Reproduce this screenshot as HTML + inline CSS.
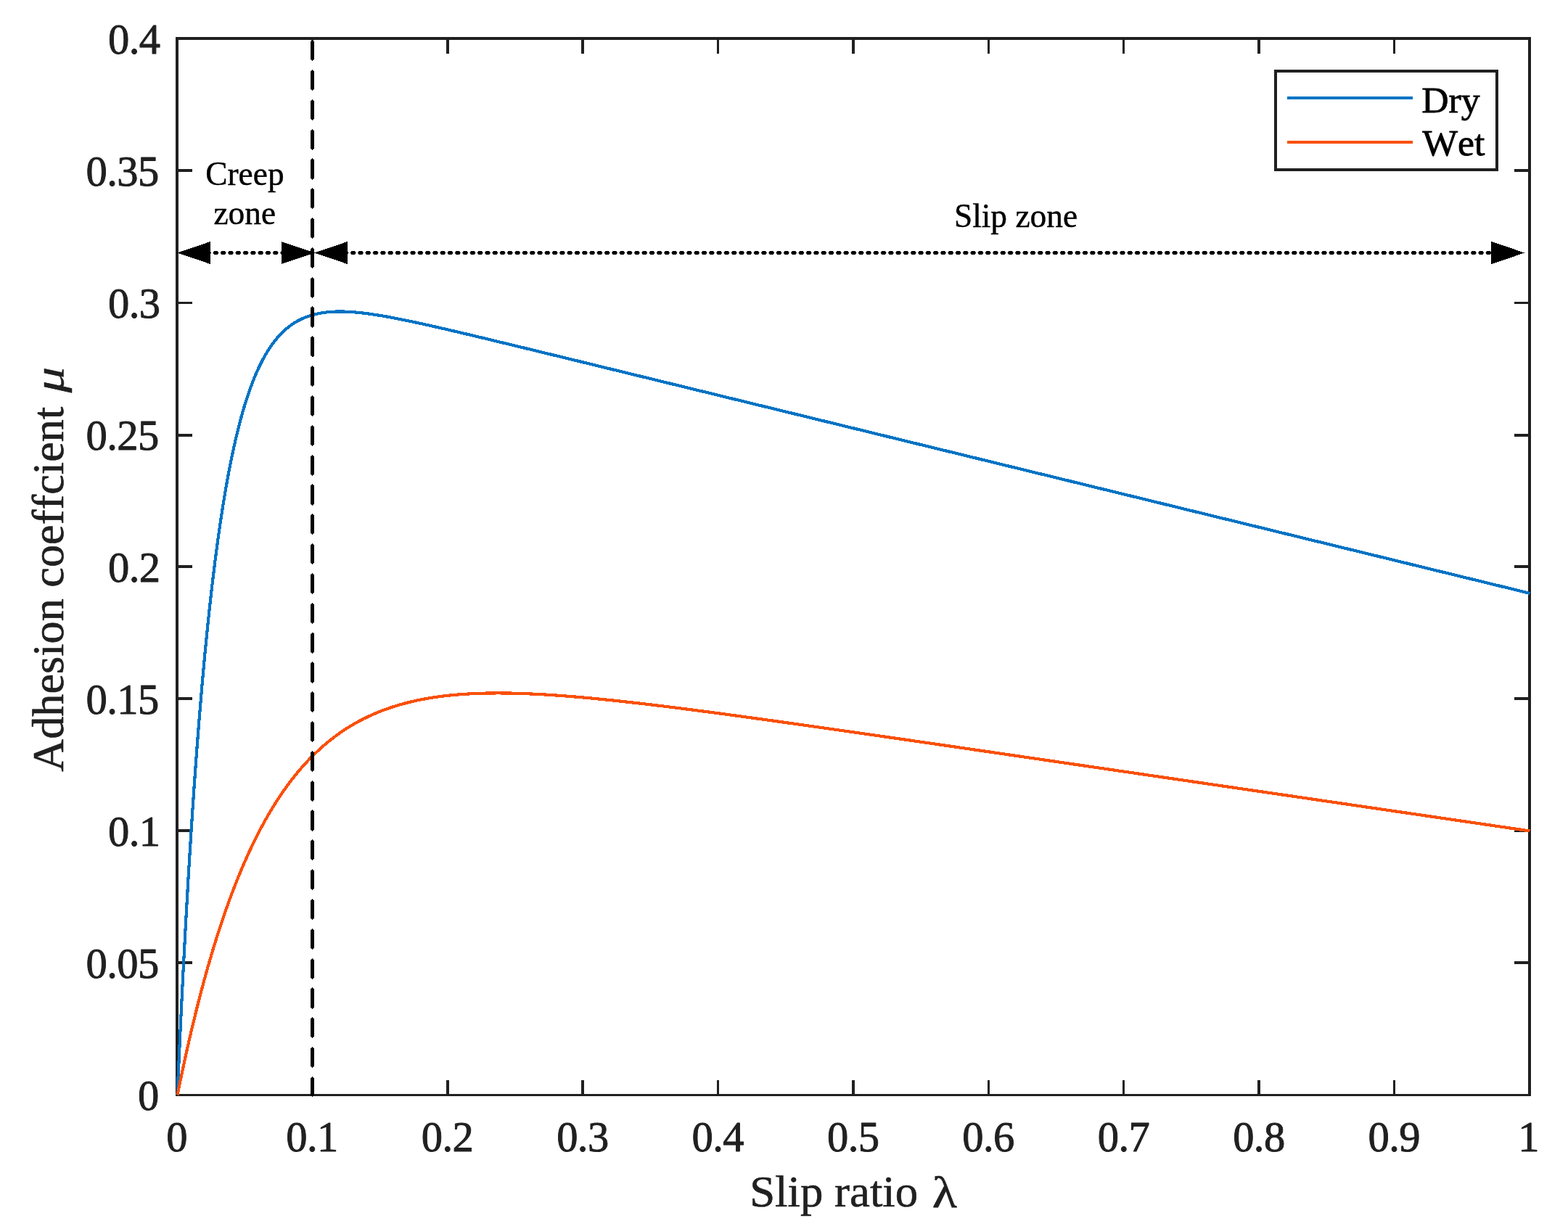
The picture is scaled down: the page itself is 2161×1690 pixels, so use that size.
<!DOCTYPE html>
<html lang="en"><head><meta charset="utf-8"><title>Adhesion coefficient vs slip ratio</title>
<style>
html,body{margin:0;padding:0;background:#fff;}
body{width:2161px;height:1690px;}
svg{display:block;}
text{font-family:"Liberation Serif","DejaVu Serif",serif;font-kerning:none;stroke-linejoin:round;paint-order:stroke fill;}
.tk{font-size:58.59px;letter-spacing:-0.574px;fill:#202020;stroke:#202020;stroke-width:0.9px;}
.lb{font-size:63.18px;fill:#202020;stroke:#202020;stroke-width:0.6px;}
.lg{font-size:51.70px;fill:#000;stroke:#000;stroke-width:0.8px;}
.an{font-size:45.40px;fill:#000;stroke:#000;stroke-width:0.45px;}
</style></head><body>
<svg xmlns="http://www.w3.org/2000/svg" width="2161" height="1690" viewBox="0 0 2161 1690">
<rect x="0" y="0" width="2161" height="1690" fill="#fff"/>
<g id="axes" fill="#202020" shape-rendering="crispEdges">
<rect x="242" y="51" width="1868" height="4"/>
<rect x="242" y="1508" width="1868" height="3"/>
<rect x="242" y="51" width="4" height="1460"/>
<rect x="2106" y="51" width="4" height="1460"/>
<rect x="429" y="1489" width="3" height="19"/>
<rect x="429" y="55" width="3" height="19"/>
<rect x="615" y="1489" width="4" height="19"/>
<rect x="615" y="55" width="4" height="19"/>
<rect x="801" y="1489" width="4" height="19"/>
<rect x="801" y="55" width="4" height="19"/>
<rect x="988" y="1489" width="3" height="19"/>
<rect x="988" y="55" width="3" height="19"/>
<rect x="1174" y="1489" width="4" height="19"/>
<rect x="1174" y="55" width="4" height="19"/>
<rect x="1361" y="1489" width="3" height="19"/>
<rect x="1361" y="55" width="3" height="19"/>
<rect x="1547" y="1489" width="3" height="19"/>
<rect x="1547" y="55" width="3" height="19"/>
<rect x="1733" y="1489" width="4" height="19"/>
<rect x="1733" y="55" width="4" height="19"/>
<rect x="1920" y="1489" width="3" height="19"/>
<rect x="1920" y="55" width="3" height="19"/>
<rect x="246" y="1325" width="19" height="4"/>
<rect x="2087" y="1325" width="19" height="4"/>
<rect x="246" y="1143" width="19" height="4"/>
<rect x="2087" y="1143" width="19" height="4"/>
<rect x="246" y="961" width="19" height="4"/>
<rect x="2087" y="961" width="19" height="4"/>
<rect x="246" y="779" width="19" height="4"/>
<rect x="2087" y="779" width="19" height="4"/>
<rect x="246" y="598" width="19" height="4"/>
<rect x="2087" y="598" width="19" height="4"/>
<rect x="246" y="416" width="19" height="3"/>
<rect x="2087" y="416" width="19" height="3"/>
<rect x="246" y="233" width="19" height="4"/>
<rect x="2087" y="233" width="19" height="4"/>
</g>
<g id="xticklabels" text-anchor="middle">
<text class="tk" x="243.70" y="1586.8">0</text>
<text class="tk" x="430.10" y="1586.8">0.1</text>
<text class="tk" x="616.50" y="1586.8">0.2</text>
<text class="tk" x="802.90" y="1586.8">0.3</text>
<text class="tk" x="989.30" y="1586.8">0.4</text>
<text class="tk" x="1175.70" y="1586.8">0.5</text>
<text class="tk" x="1362.10" y="1586.8">0.6</text>
<text class="tk" x="1548.50" y="1586.8">0.7</text>
<text class="tk" x="1734.90" y="1586.8">0.8</text>
<text class="tk" x="1921.30" y="1586.8">0.9</text>
<text class="tk" x="2106.70" y="1586.8">1</text>
</g>
<g id="yticklabels" text-anchor="end">
<text class="tk" x="218.65" y="1530.15">0</text>
<text class="tk" x="218.65" y="1348.15">0.05</text>
<text class="tk" x="220.55" y="1166.15">0.1</text>
<text class="tk" x="218.65" y="984.15">0.15</text>
<text class="tk" x="220.55" y="802.15">0.2</text>
<text class="tk" x="218.65" y="620.15">0.25</text>
<text class="tk" x="220.55" y="438.15">0.3</text>
<text class="tk" x="218.65" y="256.15">0.35</text>
<text class="tk" x="220.55" y="74.15">0.4</text>
</g>
<text class="lb" style="font-size:62.8px" transform="translate(1033.2 1663.0) scale(1 0.96)" x="0" y="0">Slip ratio</text>
<text class="lb" transform="translate(1284.7 1663.8) scale(1.12 0.97)" x="0" y="0">λ</text>
<text class="lb" style="font-size:62.25px" transform="translate(87.0 1063.8) rotate(-90)" x="0" y="0">Adhesion coeffcient</text>
<text class="lb" style="font-size:62.4px;font-style:italic" transform="translate(87.0 541.2) rotate(-90) scale(1.13 0.92)" x="0" y="0">μ</text>
<g id="curves" transform="translate(0.5 0.5)" fill="none" stroke-width="4.17" stroke-linejoin="round" stroke-linecap="butt" shape-rendering="crispEdges">
<polyline stroke="#0073C4" points="244.00,1509.00 244.93,1487.65 245.86,1466.70 246.80,1446.15 247.73,1426.00 248.66,1406.22 249.59,1386.83 250.52,1367.80 251.46,1349.14 252.39,1330.83 253.32,1312.87 254.25,1295.25 255.18,1277.97 256.12,1261.01 257.05,1244.38 257.98,1228.07 258.91,1212.07 259.84,1196.38 260.78,1180.98 261.71,1165.88 262.64,1151.07 263.57,1136.54 264.50,1122.28 265.44,1108.30 266.37,1094.59 267.30,1081.14 268.23,1067.95 269.16,1055.01 270.10,1042.32 271.03,1029.87 271.96,1017.66 272.89,1005.68 273.82,993.93 274.76,982.41 275.69,971.11 276.62,960.03 277.55,949.16 278.48,938.50 279.42,928.04 280.35,917.78 281.28,907.73 282.21,897.86 283.14,888.19 284.08,878.70 285.01,869.39 285.94,860.27 286.87,851.32 287.80,842.54 288.74,833.93 289.67,825.49 290.60,817.21 291.53,809.09 292.46,801.13 293.40,793.33 294.33,785.67 295.26,778.16 296.19,770.80 297.12,763.58 298.06,756.50 298.99,749.56 299.92,742.75 300.85,736.08 301.78,729.54 302.72,723.12 303.65,716.83 304.58,710.66 305.51,704.61 306.44,698.68 307.38,692.86 308.31,687.16 309.24,681.57 310.17,676.09 311.10,670.72 312.04,665.46 312.97,660.29 313.90,655.23 314.83,650.27 315.76,645.40 316.70,640.63 317.63,635.96 318.56,631.38 319.49,626.88 320.42,622.48 321.36,618.16 322.29,613.93 323.22,609.79 324.15,605.72 325.08,601.74 326.02,597.83 326.95,594.01 327.88,590.26 328.81,586.58 329.74,582.98 330.68,579.45 331.61,575.99 332.54,572.60 333.47,569.28 334.40,566.02 335.34,562.83 336.27,559.71 337.20,556.65 338.13,553.65 339.06,550.71 340.00,547.83 340.93,545.00 341.86,542.24 342.79,539.53 343.72,536.88 344.66,534.28 345.59,531.74 346.52,529.24 347.45,526.80 348.38,524.41 349.32,522.07 350.25,519.78 351.18,517.53 352.11,515.33 353.04,513.18 353.98,511.07 354.91,509.00 355.84,506.98 356.77,505.00 357.70,503.06 358.64,501.16 359.57,499.31 360.50,497.49 361.43,495.71 362.36,493.97 363.30,492.26 364.23,490.59 365.16,488.96 366.09,487.36 367.02,485.80 367.96,484.27 368.89,482.77 369.82,481.31 370.75,479.88 371.68,478.47 372.62,477.10 373.55,475.76 374.48,474.45 375.41,473.17 376.34,471.92 377.28,470.69 378.21,469.49 379.14,468.32 380.07,467.18 381.00,466.06 381.94,464.96 382.87,463.89 383.80,462.85 384.73,461.83 385.66,460.83 386.60,459.86 387.53,458.91 388.46,457.98 389.39,457.07 390.32,456.18 391.26,455.32 392.19,454.47 393.12,453.65 394.05,452.84 394.98,452.06 395.92,451.29 396.85,450.54 397.78,449.81 398.71,449.10 399.64,448.41 400.58,447.73 401.51,447.07 402.44,446.43 403.37,445.81 404.30,445.20 405.24,444.60 406.17,444.02 407.10,443.46 408.03,442.91 408.96,442.38 409.90,441.86 410.83,441.35 411.76,440.86 412.69,440.38 413.62,439.91 414.56,439.46 415.49,439.02 416.42,438.60 417.35,438.18 418.28,437.78 419.22,437.39 420.15,437.01 421.08,436.64 422.01,436.29 422.94,435.94 423.88,435.61 424.81,435.28 425.74,434.97 426.67,434.67 427.60,434.37 428.54,434.09 429.47,433.81 430.40,433.55 431.33,433.30 432.26,433.05 433.20,432.81 434.13,432.58 435.06,432.36 435.99,432.15 436.92,431.95 437.86,431.75 438.79,431.57 439.72,431.39 440.65,431.22 441.58,431.05 442.52,430.89 443.45,430.74 444.38,430.60 445.31,430.47 446.24,430.34 447.18,430.22 448.11,430.10 449.04,429.99 449.97,429.89 450.90,429.79 451.84,429.70 452.77,429.62 453.70,429.54 454.63,429.47 455.56,429.40 456.50,429.34 457.43,429.28 458.36,429.23 459.29,429.19 460.22,429.15 461.16,429.11 462.09,429.08 463.02,429.05 463.95,429.03 464.88,429.02 465.82,429.01 466.75,429.00 467.68,429.00 468.61,429.00 469.54,429.00 470.48,429.01 471.41,429.03 472.34,429.05 473.27,429.07 474.20,429.09 475.14,429.12 476.07,429.16 477.00,429.20 477.93,429.24 478.86,429.28 479.80,429.33 480.73,429.38 481.66,429.43 482.59,429.49 483.52,429.55 484.46,429.62 485.39,429.68 486.32,429.75 487.25,429.83 488.18,429.90 489.12,429.98 490.05,430.06 490.98,430.15 491.91,430.23 492.84,430.32 493.78,430.42 494.71,430.51 495.64,430.61 496.57,430.71 497.50,430.81 498.44,430.92 499.37,431.02 500.30,431.13 501.23,431.24 502.16,431.36 503.10,431.47 504.03,431.59 504.96,431.71 505.89,431.83 506.82,431.96 507.76,432.08 508.69,432.21 509.62,432.34 510.55,432.47 511.48,432.60 512.42,432.74 513.35,432.88 514.28,433.01 515.21,433.15 516.14,433.30 517.08,433.44 518.01,433.58 518.94,433.73 519.87,433.88 520.80,434.03 521.74,434.18 522.67,434.33 523.60,434.49 524.53,434.64 525.46,434.80 526.40,434.96 527.33,435.12 528.26,435.28 529.19,435.44 530.12,435.60 531.06,435.77 531.99,435.93 532.92,436.10 533.85,436.27 534.78,436.43 535.72,436.60 536.65,436.78 537.58,436.95 538.51,437.12 539.44,437.30 540.38,437.47 541.31,437.65 542.24,437.82 543.17,438.00 544.10,438.18 545.04,438.36 545.97,438.54 546.90,438.72 547.83,438.91 548.76,439.09 549.70,439.27 550.63,439.46 551.56,439.64 552.49,439.83 553.42,440.02 554.36,440.21 555.29,440.40 556.22,440.59 557.15,440.78 558.08,440.97 559.02,441.16 559.95,441.35 560.88,441.54 561.81,441.74 562.74,441.93 563.68,442.13 564.61,442.32 565.54,442.52 566.47,442.72 567.40,442.91 568.34,443.11 569.27,443.31 570.20,443.51 571.13,443.71 572.06,443.91 573.00,444.11 573.93,444.31 574.86,444.51 575.79,444.71 576.72,444.92 577.66,445.12 578.59,445.32 579.52,445.53 580.45,445.73 581.38,445.94 582.32,446.14 583.25,446.35 584.18,446.55 585.11,446.76 586.04,446.97 586.98,447.17 587.91,447.38 588.84,447.59 589.77,447.80 590.70,448.01 591.64,448.22 592.57,448.43 593.50,448.64 594.43,448.85 595.36,449.06 596.30,449.27 597.23,449.48 598.16,449.69 599.09,449.90 600.02,450.11 600.96,450.33 601.89,450.54 602.82,450.75 603.75,450.96 604.68,451.18 605.62,451.39 606.55,451.60 607.48,451.82 608.41,452.03 609.34,452.25 610.28,452.46 611.21,452.68 612.14,452.89 613.07,453.11 614.00,453.32 614.94,453.54 615.87,453.76 616.80,453.97 617.73,454.19 618.66,454.41 619.60,454.62 620.53,454.84 621.46,455.06 622.39,455.28 623.32,455.49 624.26,455.71 625.19,455.93 626.12,456.15 627.05,456.37 627.98,456.59 628.92,456.81 629.85,457.02 630.78,457.24 631.71,457.46 632.64,457.68 633.58,457.90 634.51,458.12 635.44,458.34 636.37,458.56 637.30,458.78 638.24,459.00 639.17,459.22 640.10,459.44 641.03,459.67 641.96,459.89 642.90,460.11 643.83,460.33 644.76,460.55 645.69,460.77 646.62,460.99 647.56,461.21 648.49,461.44 649.42,461.66 650.35,461.88 651.28,462.10 652.22,462.32 653.15,462.55 654.08,462.77 655.01,462.99 655.94,463.21 656.88,463.44 657.81,463.66 658.74,463.88 659.67,464.10 660.60,464.33 661.54,464.55 662.47,464.77 663.40,465.00 664.33,465.22 665.26,465.44 666.20,465.67 667.13,465.89 668.06,466.11 668.99,466.34 669.92,466.56 670.86,466.79 671.79,467.01 672.72,467.23 673.65,467.46 674.58,467.68 675.52,467.91 676.45,468.13 677.38,468.35 678.31,468.58 679.24,468.80 680.18,469.03 681.11,469.25 682.04,469.48 682.97,469.70 683.90,469.93 684.84,470.15 685.77,470.38 686.70,470.60 687.63,470.83 688.56,471.05 689.50,471.28 690.43,471.50 691.36,471.73 692.29,471.95 693.22,472.18 694.16,472.40 695.09,472.63 696.02,472.85 696.95,473.08 697.88,473.30 698.82,473.53 699.75,473.75 700.68,473.98 701.61,474.20 702.54,474.43 703.48,474.66 704.41,474.88 705.34,475.11 706.27,475.33 707.20,475.56 708.14,475.78 709.07,476.01 710.00,476.24 710.93,476.46 711.86,476.69 712.80,476.91 713.73,477.14 714.66,477.37 715.59,477.59 716.52,477.82 717.46,478.04 718.39,478.27 719.32,478.50 720.25,478.72 721.18,478.95 722.12,479.17 723.05,479.40 723.98,479.63 724.91,479.85 725.84,480.08 726.78,480.31 727.71,480.53 728.64,480.76 729.57,480.99 730.50,481.21 731.44,481.44 732.37,481.66 733.30,481.89 734.23,482.12 735.16,482.34 736.10,482.57 737.03,482.80 737.96,483.02 738.89,483.25 739.82,483.48 740.76,483.70 741.69,483.93 742.62,484.16 743.55,484.38 744.48,484.61 745.42,484.84 746.35,485.06 747.28,485.29 748.21,485.52 749.14,485.74 750.08,485.97 751.01,486.20 751.94,486.42 752.87,486.65 753.80,486.88 754.74,487.10 755.67,487.33 756.60,487.56 757.53,487.79 758.46,488.01 759.40,488.24 760.33,488.47 761.26,488.69 762.19,488.92 763.12,489.15 764.06,489.37 764.99,489.60 765.92,489.83 766.85,490.05 767.78,490.28 768.72,490.51 769.65,490.74 770.58,490.96 771.51,491.19 772.44,491.42 773.38,491.64 774.31,491.87 775.24,492.10 776.17,492.32 777.10,492.55 778.04,492.78 778.97,493.01 779.90,493.23 780.83,493.46 781.76,493.69 782.70,493.91 783.63,494.14 784.56,494.37 785.49,494.60 786.42,494.82 787.36,495.05 788.29,495.28 789.22,495.50 790.15,495.73 791.08,495.96 792.02,496.19 792.95,496.41 793.88,496.64 794.81,496.87 795.74,497.09 796.68,497.32 797.61,497.55 798.54,497.78 799.47,498.00 800.40,498.23 801.34,498.46 802.27,498.69 803.20,498.91 804.13,499.14 805.06,499.37 806.00,499.59 806.93,499.82 807.86,500.05 808.79,500.28 809.72,500.50 810.66,500.73 811.59,500.96 812.52,501.19 813.45,501.41 814.38,501.64 815.32,501.87 816.25,502.09 817.18,502.32 818.11,502.55 819.04,502.78 819.98,503.00 820.91,503.23 821.84,503.46 822.77,503.69 823.70,503.91 824.64,504.14 825.57,504.37 826.50,504.60 827.43,504.82 828.36,505.05 829.30,505.28 830.23,505.50 831.16,505.73 832.09,505.96 833.02,506.19 833.96,506.41 834.89,506.64 835.82,506.87 836.75,507.10 837.68,507.32 838.62,507.55 839.55,507.78 840.48,508.01 841.41,508.23 842.34,508.46 843.28,508.69 844.21,508.92 845.14,509.14 846.07,509.37 847.00,509.60 847.94,509.83 848.87,510.05 849.80,510.28 850.73,510.51 851.66,510.73 852.60,510.96 853.53,511.19 854.46,511.42 855.39,511.64 856.32,511.87 857.26,512.10 858.19,512.33 859.12,512.55 860.05,512.78 860.98,513.01 861.92,513.24 862.85,513.46 863.78,513.69 864.71,513.92 865.64,514.15 866.58,514.37 867.51,514.60 868.44,514.83 869.37,515.06 870.30,515.28 871.24,515.51 872.17,515.74 873.10,515.97 874.03,516.19 874.96,516.42 875.90,516.65 876.83,516.88 877.76,517.10 878.69,517.33 879.62,517.56 880.56,517.79 881.49,518.01 882.42,518.24 883.35,518.47 884.28,518.69 885.22,518.92 886.15,519.15 887.08,519.38 888.01,519.60 888.94,519.83 889.88,520.06 890.81,520.29 891.74,520.51 892.67,520.74 893.60,520.97 894.54,521.20 895.47,521.42 896.40,521.65 897.33,521.88 898.26,522.11 899.20,522.33 900.13,522.56 901.06,522.79 901.99,523.02 902.92,523.24 903.86,523.47 904.79,523.70 905.72,523.93 906.65,524.15 907.58,524.38 908.52,524.61 909.45,524.84 910.38,525.06 911.31,525.29 912.24,525.52 913.18,525.75 914.11,525.97 915.04,526.20 915.97,526.43 916.90,526.66 917.84,526.88 918.77,527.11 919.70,527.34 920.63,527.57 921.56,527.79 922.50,528.02 923.43,528.25 924.36,528.48 925.29,528.70 926.22,528.93 927.16,529.16 928.09,529.39 929.02,529.61 929.95,529.84 930.88,530.07 931.82,530.30 932.75,530.52 933.68,530.75 934.61,530.98 935.54,531.21 936.48,531.43 937.41,531.66 938.34,531.89 939.27,532.12 940.20,532.34 941.14,532.57 942.07,532.80 943.00,533.03 943.93,533.25 944.86,533.48 945.80,533.71 946.73,533.94 947.66,534.16 948.59,534.39 949.52,534.62 950.46,534.85 951.39,535.07 952.32,535.30 953.25,535.53 954.18,535.76 955.12,535.98 956.05,536.21 956.98,536.44 957.91,536.67 958.84,536.89 959.78,537.12 960.71,537.35 961.64,537.58 962.57,537.80 963.50,538.03 964.44,538.26 965.37,538.49 966.30,538.71 967.23,538.94 968.16,539.17 969.10,539.40 970.03,539.62 970.96,539.85 971.89,540.08 972.82,540.31 973.76,540.53 974.69,540.76 975.62,540.99 976.55,541.22 977.48,541.44 978.42,541.67 979.35,541.90 980.28,542.13 981.21,542.35 982.14,542.58 983.08,542.81 984.01,543.04 984.94,543.26 985.87,543.49 986.80,543.72 987.74,543.95 988.67,544.17 989.60,544.40 990.53,544.63 991.46,544.86 992.40,545.08 993.33,545.31 994.26,545.54 995.19,545.77 996.12,545.99 997.06,546.22 997.99,546.45 998.92,546.68 999.85,546.90 1000.78,547.13 1001.72,547.36 1002.65,547.59 1003.58,547.81 1004.51,548.04 1005.44,548.27 1006.38,548.50 1007.31,548.72 1008.24,548.95 1009.17,549.18 1010.10,549.41 1011.04,549.63 1011.97,549.86 1012.90,550.09 1013.83,550.32 1014.76,550.54 1015.70,550.77 1016.63,551.00 1017.56,551.23 1018.49,551.45 1019.42,551.68 1020.36,551.91 1021.29,552.14 1022.22,552.36 1023.15,552.59 1024.08,552.82 1025.02,553.05 1025.95,553.27 1026.88,553.50 1027.81,553.73 1028.74,553.96 1029.68,554.18 1030.61,554.41 1031.54,554.64 1032.47,554.87 1033.40,555.09 1034.34,555.32 1035.27,555.55 1036.20,555.78 1037.13,556.00 1038.06,556.23 1039.00,556.46 1039.93,556.69 1040.86,556.91 1041.79,557.14 1042.72,557.37 1043.66,557.60 1044.59,557.82 1045.52,558.05 1046.45,558.28 1047.38,558.51 1048.32,558.73 1049.25,558.96 1050.18,559.19 1051.11,559.42 1052.04,559.64 1052.98,559.87 1053.91,560.10 1054.84,560.33 1055.77,560.55 1056.70,560.78 1057.64,561.01 1058.57,561.24 1059.50,561.46 1060.43,561.69 1061.36,561.92 1062.30,562.15 1063.23,562.37 1064.16,562.60 1065.09,562.83 1066.02,563.06 1066.96,563.28 1067.89,563.51 1068.82,563.74 1069.75,563.97 1070.68,564.19 1071.62,564.42 1072.55,564.65 1073.48,564.88 1074.41,565.10 1075.34,565.33 1076.28,565.56 1077.21,565.79 1078.14,566.01 1079.07,566.24 1080.00,566.47 1080.94,566.70 1081.87,566.92 1082.80,567.15 1083.73,567.38 1084.66,567.61 1085.60,567.83 1086.53,568.06 1087.46,568.29 1088.39,568.52 1089.32,568.74 1090.26,568.97 1091.19,569.20 1092.12,569.43 1093.05,569.65 1093.98,569.88 1094.92,570.11 1095.85,570.34 1096.78,570.56 1097.71,570.79 1098.64,571.02 1099.58,571.25 1100.51,571.47 1101.44,571.70 1102.37,571.93 1103.30,572.16 1104.24,572.38 1105.17,572.61 1106.10,572.84 1107.03,573.07 1107.96,573.29 1108.90,573.52 1109.83,573.75 1110.76,573.98 1111.69,574.20 1112.62,574.43 1113.56,574.66 1114.49,574.89 1115.42,575.11 1116.35,575.34 1117.28,575.57 1118.22,575.80 1119.15,576.02 1120.08,576.25 1121.01,576.48 1121.94,576.71 1122.88,576.93 1123.81,577.16 1124.74,577.39 1125.67,577.62 1126.60,577.84 1127.54,578.07 1128.47,578.30 1129.40,578.53 1130.33,578.75 1131.26,578.98 1132.20,579.21 1133.13,579.44 1134.06,579.66 1134.99,579.89 1135.92,580.12 1136.86,580.35 1137.79,580.57 1138.72,580.80 1139.65,581.03 1140.58,581.26 1141.52,581.48 1142.45,581.71 1143.38,581.94 1144.31,582.17 1145.24,582.39 1146.18,582.62 1147.11,582.85 1148.04,583.08 1148.97,583.30 1149.90,583.53 1150.84,583.76 1151.77,583.99 1152.70,584.21 1153.63,584.44 1154.56,584.67 1155.50,584.90 1156.43,585.12 1157.36,585.35 1158.29,585.58 1159.22,585.81 1160.16,586.03 1161.09,586.26 1162.02,586.49 1162.95,586.72 1163.88,586.94 1164.82,587.17 1165.75,587.40 1166.68,587.63 1167.61,587.85 1168.54,588.08 1169.48,588.31 1170.41,588.54 1171.34,588.76 1172.27,588.99 1173.20,589.22 1174.14,589.45 1175.07,589.67 1176.00,589.90 1176.93,590.13 1177.86,590.36 1178.80,590.58 1179.73,590.81 1180.66,591.04 1181.59,591.27 1182.52,591.49 1183.46,591.72 1184.39,591.95 1185.32,592.18 1186.25,592.40 1187.18,592.63 1188.12,592.86 1189.05,593.09 1189.98,593.31 1190.91,593.54 1191.84,593.77 1192.78,594.00 1193.71,594.22 1194.64,594.45 1195.57,594.68 1196.50,594.91 1197.44,595.13 1198.37,595.36 1199.30,595.59 1200.23,595.82 1201.16,596.04 1202.10,596.27 1203.03,596.50 1203.96,596.73 1204.89,596.95 1205.82,597.18 1206.76,597.41 1207.69,597.64 1208.62,597.86 1209.55,598.09 1210.48,598.32 1211.42,598.55 1212.35,598.77 1213.28,599.00 1214.21,599.23 1215.14,599.46 1216.08,599.68 1217.01,599.91 1217.94,600.14 1218.87,600.37 1219.80,600.59 1220.74,600.82 1221.67,601.05 1222.60,601.28 1223.53,601.50 1224.46,601.73 1225.40,601.96 1226.33,602.19 1227.26,602.41 1228.19,602.64 1229.12,602.87 1230.06,603.10 1230.99,603.32 1231.92,603.55 1232.85,603.78 1233.78,604.01 1234.72,604.23 1235.65,604.46 1236.58,604.69 1237.51,604.92 1238.44,605.14 1239.38,605.37 1240.31,605.60 1241.24,605.83 1242.17,606.05 1243.10,606.28 1244.04,606.51 1244.97,606.74 1245.90,606.96 1246.83,607.19 1247.76,607.42 1248.70,607.65 1249.63,607.87 1250.56,608.10 1251.49,608.33 1252.42,608.56 1253.36,608.78 1254.29,609.01 1255.22,609.24 1256.15,609.47 1257.08,609.69 1258.02,609.92 1258.95,610.15 1259.88,610.38 1260.81,610.60 1261.74,610.83 1262.68,611.06 1263.61,611.29 1264.54,611.51 1265.47,611.74 1266.40,611.97 1267.34,612.20 1268.27,612.42 1269.20,612.65 1270.13,612.88 1271.06,613.11 1272.00,613.33 1272.93,613.56 1273.86,613.79 1274.79,614.02 1275.72,614.24 1276.66,614.47 1277.59,614.70 1278.52,614.93 1279.45,615.15 1280.38,615.38 1281.32,615.61 1282.25,615.84 1283.18,616.06 1284.11,616.29 1285.04,616.52 1285.98,616.75 1286.91,616.97 1287.84,617.20 1288.77,617.43 1289.70,617.66 1290.64,617.88 1291.57,618.11 1292.50,618.34 1293.43,618.57 1294.36,618.79 1295.30,619.02 1296.23,619.25 1297.16,619.48 1298.09,619.70 1299.02,619.93 1299.96,620.16 1300.89,620.39 1301.82,620.61 1302.75,620.84 1303.68,621.07 1304.62,621.30 1305.55,621.52 1306.48,621.75 1307.41,621.98 1308.34,622.21 1309.28,622.43 1310.21,622.66 1311.14,622.89 1312.07,623.12 1313.00,623.34 1313.94,623.57 1314.87,623.80 1315.80,624.03 1316.73,624.25 1317.66,624.48 1318.60,624.71 1319.53,624.94 1320.46,625.16 1321.39,625.39 1322.32,625.62 1323.26,625.85 1324.19,626.07 1325.12,626.30 1326.05,626.53 1326.98,626.76 1327.92,626.98 1328.85,627.21 1329.78,627.44 1330.71,627.67 1331.64,627.89 1332.58,628.12 1333.51,628.35 1334.44,628.58 1335.37,628.80 1336.30,629.03 1337.24,629.26 1338.17,629.49 1339.10,629.71 1340.03,629.94 1340.96,630.17 1341.90,630.40 1342.83,630.62 1343.76,630.85 1344.69,631.08 1345.62,631.31 1346.56,631.53 1347.49,631.76 1348.42,631.99 1349.35,632.22 1350.28,632.44 1351.22,632.67 1352.15,632.90 1353.08,633.13 1354.01,633.35 1354.94,633.58 1355.88,633.81 1356.81,634.04 1357.74,634.26 1358.67,634.49 1359.60,634.72 1360.54,634.95 1361.47,635.17 1362.40,635.40 1363.33,635.63 1364.26,635.86 1365.20,636.08 1366.13,636.31 1367.06,636.54 1367.99,636.77 1368.92,636.99 1369.86,637.22 1370.79,637.45 1371.72,637.68 1372.65,637.90 1373.58,638.13 1374.52,638.36 1375.45,638.59 1376.38,638.81 1377.31,639.04 1378.24,639.27 1379.18,639.50 1380.11,639.72 1381.04,639.95 1381.97,640.18 1382.90,640.41 1383.84,640.63 1384.77,640.86 1385.70,641.09 1386.63,641.32 1387.56,641.54 1388.50,641.77 1389.43,642.00 1390.36,642.23 1391.29,642.45 1392.22,642.68 1393.16,642.91 1394.09,643.14 1395.02,643.36 1395.95,643.59 1396.88,643.82 1397.82,644.05 1398.75,644.27 1399.68,644.50 1400.61,644.73 1401.54,644.96 1402.48,645.18 1403.41,645.41 1404.34,645.64 1405.27,645.87 1406.20,646.09 1407.14,646.32 1408.07,646.55 1409.00,646.78 1409.93,647.00 1410.86,647.23 1411.80,647.46 1412.73,647.69 1413.66,647.91 1414.59,648.14 1415.52,648.37 1416.46,648.60 1417.39,648.82 1418.32,649.05 1419.25,649.28 1420.18,649.51 1421.12,649.73 1422.05,649.96 1422.98,650.19 1423.91,650.42 1424.84,650.64 1425.78,650.87 1426.71,651.10 1427.64,651.33 1428.57,651.55 1429.50,651.78 1430.44,652.01 1431.37,652.24 1432.30,652.46 1433.23,652.69 1434.16,652.92 1435.10,653.15 1436.03,653.37 1436.96,653.60 1437.89,653.83 1438.82,654.06 1439.76,654.28 1440.69,654.51 1441.62,654.74 1442.55,654.97 1443.48,655.19 1444.42,655.42 1445.35,655.65 1446.28,655.88 1447.21,656.10 1448.14,656.33 1449.08,656.56 1450.01,656.79 1450.94,657.01 1451.87,657.24 1452.80,657.47 1453.74,657.70 1454.67,657.92 1455.60,658.15 1456.53,658.38 1457.46,658.61 1458.40,658.83 1459.33,659.06 1460.26,659.29 1461.19,659.52 1462.12,659.74 1463.06,659.97 1463.99,660.20 1464.92,660.43 1465.85,660.65 1466.78,660.88 1467.72,661.11 1468.65,661.34 1469.58,661.56 1470.51,661.79 1471.44,662.02 1472.38,662.25 1473.31,662.47 1474.24,662.70 1475.17,662.93 1476.10,663.16 1477.04,663.38 1477.97,663.61 1478.90,663.84 1479.83,664.07 1480.76,664.29 1481.70,664.52 1482.63,664.75 1483.56,664.98 1484.49,665.20 1485.42,665.43 1486.36,665.66 1487.29,665.89 1488.22,666.11 1489.15,666.34 1490.08,666.57 1491.02,666.80 1491.95,667.02 1492.88,667.25 1493.81,667.48 1494.74,667.71 1495.68,667.93 1496.61,668.16 1497.54,668.39 1498.47,668.62 1499.40,668.84 1500.34,669.07 1501.27,669.30 1502.20,669.53 1503.13,669.75 1504.06,669.98 1505.00,670.21 1505.93,670.44 1506.86,670.66 1507.79,670.89 1508.72,671.12 1509.66,671.35 1510.59,671.57 1511.52,671.80 1512.45,672.03 1513.38,672.26 1514.32,672.48 1515.25,672.71 1516.18,672.94 1517.11,673.17 1518.04,673.39 1518.98,673.62 1519.91,673.85 1520.84,674.08 1521.77,674.30 1522.70,674.53 1523.64,674.76 1524.57,674.99 1525.50,675.21 1526.43,675.44 1527.36,675.67 1528.30,675.90 1529.23,676.12 1530.16,676.35 1531.09,676.58 1532.02,676.81 1532.96,677.03 1533.89,677.26 1534.82,677.49 1535.75,677.72 1536.68,677.94 1537.62,678.17 1538.55,678.40 1539.48,678.63 1540.41,678.85 1541.34,679.08 1542.28,679.31 1543.21,679.54 1544.14,679.76 1545.07,679.99 1546.00,680.22 1546.94,680.45 1547.87,680.67 1548.80,680.90 1549.73,681.13 1550.66,681.36 1551.60,681.58 1552.53,681.81 1553.46,682.04 1554.39,682.27 1555.32,682.49 1556.26,682.72 1557.19,682.95 1558.12,683.18 1559.05,683.40 1559.98,683.63 1560.92,683.86 1561.85,684.09 1562.78,684.31 1563.71,684.54 1564.64,684.77 1565.58,685.00 1566.51,685.22 1567.44,685.45 1568.37,685.68 1569.30,685.91 1570.24,686.13 1571.17,686.36 1572.10,686.59 1573.03,686.82 1573.96,687.04 1574.90,687.27 1575.83,687.50 1576.76,687.73 1577.69,687.95 1578.62,688.18 1579.56,688.41 1580.49,688.64 1581.42,688.86 1582.35,689.09 1583.28,689.32 1584.22,689.55 1585.15,689.77 1586.08,690.00 1587.01,690.23 1587.94,690.46 1588.88,690.68 1589.81,690.91 1590.74,691.14 1591.67,691.37 1592.60,691.59 1593.54,691.82 1594.47,692.05 1595.40,692.28 1596.33,692.50 1597.26,692.73 1598.20,692.96 1599.13,693.19 1600.06,693.41 1600.99,693.64 1601.92,693.87 1602.86,694.10 1603.79,694.32 1604.72,694.55 1605.65,694.78 1606.58,695.01 1607.52,695.23 1608.45,695.46 1609.38,695.69 1610.31,695.92 1611.24,696.14 1612.18,696.37 1613.11,696.60 1614.04,696.83 1614.97,697.05 1615.90,697.28 1616.84,697.51 1617.77,697.74 1618.70,697.96 1619.63,698.19 1620.56,698.42 1621.50,698.65 1622.43,698.87 1623.36,699.10 1624.29,699.33 1625.22,699.56 1626.16,699.78 1627.09,700.01 1628.02,700.24 1628.95,700.47 1629.88,700.69 1630.82,700.92 1631.75,701.15 1632.68,701.38 1633.61,701.60 1634.54,701.83 1635.48,702.06 1636.41,702.29 1637.34,702.51 1638.27,702.74 1639.20,702.97 1640.14,703.20 1641.07,703.42 1642.00,703.65 1642.93,703.88 1643.86,704.11 1644.80,704.33 1645.73,704.56 1646.66,704.79 1647.59,705.02 1648.52,705.24 1649.46,705.47 1650.39,705.70 1651.32,705.93 1652.25,706.15 1653.18,706.38 1654.12,706.61 1655.05,706.84 1655.98,707.06 1656.91,707.29 1657.84,707.52 1658.78,707.75 1659.71,707.97 1660.64,708.20 1661.57,708.43 1662.50,708.66 1663.44,708.88 1664.37,709.11 1665.30,709.34 1666.23,709.57 1667.16,709.79 1668.10,710.02 1669.03,710.25 1669.96,710.48 1670.89,710.70 1671.82,710.93 1672.76,711.16 1673.69,711.39 1674.62,711.61 1675.55,711.84 1676.48,712.07 1677.42,712.30 1678.35,712.52 1679.28,712.75 1680.21,712.98 1681.14,713.21 1682.08,713.43 1683.01,713.66 1683.94,713.89 1684.87,714.12 1685.80,714.34 1686.74,714.57 1687.67,714.80 1688.60,715.03 1689.53,715.25 1690.46,715.48 1691.40,715.71 1692.33,715.94 1693.26,716.16 1694.19,716.39 1695.12,716.62 1696.06,716.85 1696.99,717.07 1697.92,717.30 1698.85,717.53 1699.78,717.76 1700.72,717.98 1701.65,718.21 1702.58,718.44 1703.51,718.67 1704.44,718.89 1705.38,719.12 1706.31,719.35 1707.24,719.58 1708.17,719.80 1709.10,720.03 1710.04,720.26 1710.97,720.49 1711.90,720.71 1712.83,720.94 1713.76,721.17 1714.70,721.40 1715.63,721.62 1716.56,721.85 1717.49,722.08 1718.42,722.31 1719.36,722.53 1720.29,722.76 1721.22,722.99 1722.15,723.22 1723.08,723.44 1724.02,723.67 1724.95,723.90 1725.88,724.13 1726.81,724.35 1727.74,724.58 1728.68,724.81 1729.61,725.04 1730.54,725.26 1731.47,725.49 1732.40,725.72 1733.34,725.95 1734.27,726.17 1735.20,726.40 1736.13,726.63 1737.06,726.86 1738.00,727.08 1738.93,727.31 1739.86,727.54 1740.79,727.77 1741.72,727.99 1742.66,728.22 1743.59,728.45 1744.52,728.68 1745.45,728.90 1746.38,729.13 1747.32,729.36 1748.25,729.59 1749.18,729.81 1750.11,730.04 1751.04,730.27 1751.98,730.50 1752.91,730.72 1753.84,730.95 1754.77,731.18 1755.70,731.41 1756.64,731.63 1757.57,731.86 1758.50,732.09 1759.43,732.32 1760.36,732.54 1761.30,732.77 1762.23,733.00 1763.16,733.23 1764.09,733.45 1765.02,733.68 1765.96,733.91 1766.89,734.14 1767.82,734.36 1768.75,734.59 1769.68,734.82 1770.62,735.05 1771.55,735.27 1772.48,735.50 1773.41,735.73 1774.34,735.96 1775.28,736.18 1776.21,736.41 1777.14,736.64 1778.07,736.87 1779.00,737.09 1779.94,737.32 1780.87,737.55 1781.80,737.78 1782.73,738.00 1783.66,738.23 1784.60,738.46 1785.53,738.69 1786.46,738.91 1787.39,739.14 1788.32,739.37 1789.26,739.60 1790.19,739.82 1791.12,740.05 1792.05,740.28 1792.98,740.51 1793.92,740.73 1794.85,740.96 1795.78,741.19 1796.71,741.42 1797.64,741.64 1798.58,741.87 1799.51,742.10 1800.44,742.33 1801.37,742.55 1802.30,742.78 1803.24,743.01 1804.17,743.24 1805.10,743.46 1806.03,743.69 1806.96,743.92 1807.90,744.15 1808.83,744.37 1809.76,744.60 1810.69,744.83 1811.62,745.06 1812.56,745.28 1813.49,745.51 1814.42,745.74 1815.35,745.97 1816.28,746.19 1817.22,746.42 1818.15,746.65 1819.08,746.88 1820.01,747.10 1820.94,747.33 1821.88,747.56 1822.81,747.79 1823.74,748.01 1824.67,748.24 1825.60,748.47 1826.54,748.70 1827.47,748.92 1828.40,749.15 1829.33,749.38 1830.26,749.61 1831.20,749.83 1832.13,750.06 1833.06,750.29 1833.99,750.52 1834.92,750.74 1835.86,750.97 1836.79,751.20 1837.72,751.43 1838.65,751.65 1839.58,751.88 1840.52,752.11 1841.45,752.34 1842.38,752.56 1843.31,752.79 1844.24,753.02 1845.18,753.25 1846.11,753.47 1847.04,753.70 1847.97,753.93 1848.90,754.16 1849.84,754.38 1850.77,754.61 1851.70,754.84 1852.63,755.07 1853.56,755.29 1854.50,755.52 1855.43,755.75 1856.36,755.98 1857.29,756.20 1858.22,756.43 1859.16,756.66 1860.09,756.89 1861.02,757.11 1861.95,757.34 1862.88,757.57 1863.82,757.80 1864.75,758.02 1865.68,758.25 1866.61,758.48 1867.54,758.71 1868.48,758.93 1869.41,759.16 1870.34,759.39 1871.27,759.62 1872.20,759.84 1873.14,760.07 1874.07,760.30 1875.00,760.53 1875.93,760.75 1876.86,760.98 1877.80,761.21 1878.73,761.44 1879.66,761.66 1880.59,761.89 1881.52,762.12 1882.46,762.35 1883.39,762.57 1884.32,762.80 1885.25,763.03 1886.18,763.26 1887.12,763.48 1888.05,763.71 1888.98,763.94 1889.91,764.17 1890.84,764.39 1891.78,764.62 1892.71,764.85 1893.64,765.08 1894.57,765.30 1895.50,765.53 1896.44,765.76 1897.37,765.99 1898.30,766.21 1899.23,766.44 1900.16,766.67 1901.10,766.90 1902.03,767.12 1902.96,767.35 1903.89,767.58 1904.82,767.81 1905.76,768.03 1906.69,768.26 1907.62,768.49 1908.55,768.72 1909.48,768.94 1910.42,769.17 1911.35,769.40 1912.28,769.63 1913.21,769.85 1914.14,770.08 1915.08,770.31 1916.01,770.54 1916.94,770.76 1917.87,770.99 1918.80,771.22 1919.74,771.45 1920.67,771.67 1921.60,771.90 1922.53,772.13 1923.46,772.36 1924.40,772.58 1925.33,772.81 1926.26,773.04 1927.19,773.27 1928.12,773.49 1929.06,773.72 1929.99,773.95 1930.92,774.18 1931.85,774.40 1932.78,774.63 1933.72,774.86 1934.65,775.09 1935.58,775.31 1936.51,775.54 1937.44,775.77 1938.38,776.00 1939.31,776.22 1940.24,776.45 1941.17,776.68 1942.10,776.91 1943.04,777.13 1943.97,777.36 1944.90,777.59 1945.83,777.82 1946.76,778.04 1947.70,778.27 1948.63,778.50 1949.56,778.73 1950.49,778.95 1951.42,779.18 1952.36,779.41 1953.29,779.64 1954.22,779.86 1955.15,780.09 1956.08,780.32 1957.02,780.55 1957.95,780.77 1958.88,781.00 1959.81,781.23 1960.74,781.46 1961.68,781.68 1962.61,781.91 1963.54,782.14 1964.47,782.37 1965.40,782.59 1966.34,782.82 1967.27,783.05 1968.20,783.28 1969.13,783.50 1970.06,783.73 1971.00,783.96 1971.93,784.19 1972.86,784.41 1973.79,784.64 1974.72,784.87 1975.66,785.10 1976.59,785.32 1977.52,785.55 1978.45,785.78 1979.38,786.01 1980.32,786.23 1981.25,786.46 1982.18,786.69 1983.11,786.92 1984.04,787.14 1984.98,787.37 1985.91,787.60 1986.84,787.83 1987.77,788.05 1988.70,788.28 1989.64,788.51 1990.57,788.74 1991.50,788.96 1992.43,789.19 1993.36,789.42 1994.30,789.65 1995.23,789.87 1996.16,790.10 1997.09,790.33 1998.02,790.56 1998.96,790.78 1999.89,791.01 2000.82,791.24 2001.75,791.47 2002.68,791.69 2003.62,791.92 2004.55,792.15 2005.48,792.38 2006.41,792.60 2007.34,792.83 2008.28,793.06 2009.21,793.29 2010.14,793.51 2011.07,793.74 2012.00,793.97 2012.94,794.20 2013.87,794.42 2014.80,794.65 2015.73,794.88 2016.66,795.11 2017.60,795.33 2018.53,795.56 2019.46,795.79 2020.39,796.02 2021.32,796.24 2022.26,796.47 2023.19,796.70 2024.12,796.93 2025.05,797.15 2025.98,797.38 2026.92,797.61 2027.85,797.84 2028.78,798.06 2029.71,798.29 2030.64,798.52 2031.58,798.75 2032.51,798.97 2033.44,799.20 2034.37,799.43 2035.30,799.66 2036.24,799.88 2037.17,800.11 2038.10,800.34 2039.03,800.57 2039.96,800.79 2040.90,801.02 2041.83,801.25 2042.76,801.48 2043.69,801.70 2044.62,801.93 2045.56,802.16 2046.49,802.39 2047.42,802.61 2048.35,802.84 2049.28,803.07 2050.22,803.30 2051.15,803.52 2052.08,803.75 2053.01,803.98 2053.94,804.21 2054.88,804.43 2055.81,804.66 2056.74,804.89 2057.67,805.12 2058.60,805.34 2059.54,805.57 2060.47,805.80 2061.40,806.03 2062.33,806.25 2063.26,806.48 2064.20,806.71 2065.13,806.94 2066.06,807.16 2066.99,807.39 2067.92,807.62 2068.86,807.85 2069.79,808.07 2070.72,808.30 2071.65,808.53 2072.58,808.76 2073.52,808.98 2074.45,809.21 2075.38,809.44 2076.31,809.67 2077.24,809.89 2078.18,810.12 2079.11,810.35 2080.04,810.57 2080.97,810.80 2081.90,811.03 2082.84,811.26 2083.77,811.49 2084.70,811.71 2085.63,811.94 2086.56,812.17 2087.50,812.39 2088.43,812.62 2089.36,812.85 2090.29,813.08 2091.22,813.31 2092.16,813.53 2093.09,813.76 2094.02,813.99 2094.95,814.21 2095.88,814.44 2096.82,814.67 2097.75,814.90 2098.68,815.13 2099.61,815.35 2100.54,815.58 2101.48,815.81 2102.41,816.03 2103.34,816.26 2104.27,816.49 2105.20,816.72 2106.14,816.95 2107.07,817.17 2108.00,817.40"/>
<polyline stroke="#FA500A" points="244.00,1509.00 244.93,1504.38 245.86,1499.79 246.80,1495.24 247.73,1490.72 248.66,1486.24 249.59,1481.79 250.52,1477.38 251.46,1473.00 252.39,1468.65 253.32,1464.34 254.25,1460.06 255.18,1455.81 256.12,1451.60 257.05,1447.42 257.98,1443.27 258.91,1439.15 259.84,1435.07 260.78,1431.01 261.71,1426.99 262.64,1423.00 263.57,1419.04 264.50,1415.11 265.44,1411.21 266.37,1407.34 267.30,1403.50 268.23,1399.69 269.16,1395.91 270.10,1392.16 271.03,1388.44 271.96,1384.75 272.89,1381.09 273.82,1377.45 274.76,1373.84 275.69,1370.26 276.62,1366.71 277.55,1363.19 278.48,1359.69 279.42,1356.22 280.35,1352.78 281.28,1349.36 282.21,1345.97 283.14,1342.61 284.08,1339.27 285.01,1335.96 285.94,1332.68 286.87,1329.42 287.80,1326.18 288.74,1322.97 289.67,1319.79 290.60,1316.63 291.53,1313.49 292.46,1310.38 293.40,1307.30 294.33,1304.24 295.26,1301.20 296.19,1298.18 297.12,1295.19 298.06,1292.22 298.99,1289.28 299.92,1286.36 300.85,1283.46 301.78,1280.59 302.72,1277.73 303.65,1274.90 304.58,1272.09 305.51,1269.31 306.44,1266.54 307.38,1263.80 308.31,1261.08 309.24,1258.38 310.17,1255.70 311.10,1253.04 312.04,1250.40 312.97,1247.79 313.90,1245.19 314.83,1242.61 315.76,1240.06 316.70,1237.52 317.63,1235.01 318.56,1232.51 319.49,1230.04 320.42,1227.58 321.36,1225.14 322.29,1222.73 323.22,1220.33 324.15,1217.95 325.08,1215.59 326.02,1213.25 326.95,1210.92 327.88,1208.62 328.81,1206.33 329.74,1204.06 330.68,1201.81 331.61,1199.58 332.54,1197.36 333.47,1195.17 334.40,1192.98 335.34,1190.82 336.27,1188.68 337.20,1186.55 338.13,1184.44 339.06,1182.34 340.00,1180.26 340.93,1178.20 341.86,1176.16 342.79,1174.13 343.72,1172.11 344.66,1170.12 345.59,1168.14 346.52,1166.17 347.45,1164.22 348.38,1162.29 349.32,1160.37 350.25,1158.47 351.18,1156.58 352.11,1154.71 353.04,1152.85 353.98,1151.01 354.91,1149.18 355.84,1147.36 356.77,1145.57 357.70,1143.78 358.64,1142.01 359.57,1140.26 360.50,1138.52 361.43,1136.79 362.36,1135.07 363.30,1133.37 364.23,1131.69 365.16,1130.02 366.09,1128.36 367.02,1126.71 367.96,1125.08 368.89,1123.46 369.82,1121.86 370.75,1120.26 371.68,1118.68 372.62,1117.12 373.55,1115.56 374.48,1114.02 375.41,1112.49 376.34,1110.97 377.28,1109.47 378.21,1107.98 379.14,1106.50 380.07,1105.03 381.00,1103.57 381.94,1102.13 382.87,1100.70 383.80,1099.28 384.73,1097.87 385.66,1096.47 386.60,1095.09 387.53,1093.71 388.46,1092.35 389.39,1091.00 390.32,1089.66 391.26,1088.33 392.19,1087.01 393.12,1085.70 394.05,1084.40 394.98,1083.12 395.92,1081.84 396.85,1080.58 397.78,1079.32 398.71,1078.08 399.64,1076.84 400.58,1075.62 401.51,1074.41 402.44,1073.20 403.37,1072.01 404.30,1070.83 405.24,1069.65 406.17,1068.49 407.10,1067.33 408.03,1066.19 408.96,1065.05 409.90,1063.93 410.83,1062.81 411.76,1061.71 412.69,1060.61 413.62,1059.52 414.56,1058.44 415.49,1057.37 416.42,1056.31 417.35,1055.26 418.28,1054.22 419.22,1053.18 420.15,1052.16 421.08,1051.14 422.01,1050.13 422.94,1049.13 423.88,1048.14 424.81,1047.16 425.74,1046.18 426.67,1045.22 427.60,1044.26 428.54,1043.31 429.47,1042.37 430.40,1041.43 431.33,1040.51 432.26,1039.59 433.20,1038.68 434.13,1037.78 435.06,1036.89 435.99,1036.00 436.92,1035.12 437.86,1034.25 438.79,1033.39 439.72,1032.53 440.65,1031.68 441.58,1030.84 442.52,1030.00 443.45,1029.18 444.38,1028.36 445.31,1027.55 446.24,1026.74 447.18,1025.94 448.11,1025.15 449.04,1024.37 449.97,1023.59 450.90,1022.82 451.84,1022.05 452.77,1021.30 453.70,1020.55 454.63,1019.80 455.56,1019.06 456.50,1018.33 457.43,1017.61 458.36,1016.89 459.29,1016.18 460.22,1015.47 461.16,1014.78 462.09,1014.08 463.02,1013.40 463.95,1012.72 464.88,1012.04 465.82,1011.37 466.75,1010.71 467.68,1010.06 468.61,1009.41 469.54,1008.76 470.48,1008.12 471.41,1007.49 472.34,1006.86 473.27,1006.24 474.20,1005.63 475.14,1005.02 476.07,1004.41 477.00,1003.81 477.93,1003.22 478.86,1002.63 479.80,1002.05 480.73,1001.47 481.66,1000.90 482.59,1000.33 483.52,999.77 484.46,999.22 485.39,998.66 486.32,998.12 487.25,997.58 488.18,997.04 489.12,996.51 490.05,995.99 490.98,995.47 491.91,994.95 492.84,994.44 493.78,993.93 494.71,993.43 495.64,992.94 496.57,992.44 497.50,991.96 498.44,991.47 499.37,991.00 500.30,990.52 501.23,990.05 502.16,989.59 503.10,989.13 504.03,988.68 504.96,988.22 505.89,987.78 506.82,987.34 507.76,986.90 508.69,986.47 509.62,986.04 510.55,985.61 511.48,985.19 512.42,984.77 513.35,984.36 514.28,983.95 515.21,983.55 516.14,983.15 517.08,982.75 518.01,982.36 518.94,981.97 519.87,981.59 520.80,981.21 521.74,980.83 522.67,980.46 523.60,980.09 524.53,979.72 525.46,979.36 526.40,979.01 527.33,978.65 528.26,978.30 529.19,977.95 530.12,977.61 531.06,977.27 531.99,976.94 532.92,976.60 533.85,976.27 534.78,975.95 535.72,975.63 536.65,975.31 537.58,974.99 538.51,974.68 539.44,974.37 540.38,974.07 541.31,973.77 542.24,973.47 543.17,973.17 544.10,972.88 545.04,972.59 545.97,972.31 546.90,972.02 547.83,971.74 548.76,971.47 549.70,971.19 550.63,970.92 551.56,970.66 552.49,970.39 553.42,970.13 554.36,969.87 555.29,969.62 556.22,969.37 557.15,969.12 558.08,968.87 559.02,968.63 559.95,968.39 560.88,968.15 561.81,967.91 562.74,967.68 563.68,967.45 564.61,967.22 565.54,967.00 566.47,966.78 567.40,966.56 568.34,966.34 569.27,966.13 570.20,965.92 571.13,965.71 572.06,965.51 573.00,965.30 573.93,965.10 574.86,964.90 575.79,964.71 576.72,964.51 577.66,964.32 578.59,964.14 579.52,963.95 580.45,963.77 581.38,963.59 582.32,963.41 583.25,963.23 584.18,963.06 585.11,962.89 586.04,962.72 586.98,962.55 587.91,962.38 588.84,962.22 589.77,962.06 590.70,961.90 591.64,961.75 592.57,961.59 593.50,961.44 594.43,961.29 595.36,961.15 596.30,961.00 597.23,960.86 598.16,960.72 599.09,960.58 600.02,960.44 600.96,960.31 601.89,960.17 602.82,960.04 603.75,959.91 604.68,959.79 605.62,959.66 606.55,959.54 607.48,959.42 608.41,959.30 609.34,959.18 610.28,959.07 611.21,958.96 612.14,958.84 613.07,958.73 614.00,958.63 614.94,958.52 615.87,958.42 616.80,958.31 617.73,958.21 618.66,958.12 619.60,958.02 620.53,957.92 621.46,957.83 622.39,957.74 623.32,957.65 624.26,957.56 625.19,957.47 626.12,957.39 627.05,957.30 627.98,957.22 628.92,957.14 629.85,957.06 630.78,956.99 631.71,956.91 632.64,956.84 633.58,956.77 634.51,956.70 635.44,956.63 636.37,956.56 637.30,956.49 638.24,956.43 639.17,956.37 640.10,956.30 641.03,956.24 641.96,956.19 642.90,956.13 643.83,956.07 644.76,956.02 645.69,955.97 646.62,955.92 647.56,955.87 648.49,955.82 649.42,955.77 650.35,955.72 651.28,955.68 652.22,955.64 653.15,955.59 654.08,955.55 655.01,955.52 655.94,955.48 656.88,955.44 657.81,955.41 658.74,955.37 659.67,955.34 660.60,955.31 661.54,955.28 662.47,955.25 663.40,955.22 664.33,955.20 665.26,955.17 666.20,955.15 667.13,955.12 668.06,955.10 668.99,955.08 669.92,955.06 670.86,955.04 671.79,955.03 672.72,955.01 673.65,955.00 674.58,954.98 675.52,954.97 676.45,954.96 677.38,954.95 678.31,954.94 679.24,954.93 680.18,954.93 681.11,954.92 682.04,954.92 682.97,954.91 683.90,954.91 684.84,954.91 685.77,954.91 686.70,954.91 687.63,954.91 688.56,954.91 689.50,954.92 690.43,954.92 691.36,954.93 692.29,954.93 693.22,954.94 694.16,954.95 695.09,954.96 696.02,954.97 696.95,954.98 697.88,954.99 698.82,955.00 699.75,955.02 700.68,955.03 701.61,955.05 702.54,955.07 703.48,955.08 704.41,955.10 705.34,955.12 706.27,955.14 707.20,955.16 708.14,955.18 709.07,955.21 710.00,955.23 710.93,955.26 711.86,955.28 712.80,955.31 713.73,955.33 714.66,955.36 715.59,955.39 716.52,955.42 717.46,955.45 718.39,955.48 719.32,955.51 720.25,955.55 721.18,955.58 722.12,955.61 723.05,955.65 723.98,955.68 724.91,955.72 725.84,955.76 726.78,955.80 727.71,955.83 728.64,955.87 729.57,955.91 730.50,955.96 731.44,956.00 732.37,956.04 733.30,956.08 734.23,956.13 735.16,956.17 736.10,956.22 737.03,956.26 737.96,956.31 738.89,956.35 739.82,956.40 740.76,956.45 741.69,956.50 742.62,956.55 743.55,956.60 744.48,956.65 745.42,956.70 746.35,956.76 747.28,956.81 748.21,956.86 749.14,956.92 750.08,956.97 751.01,957.03 751.94,957.08 752.87,957.14 753.80,957.20 754.74,957.25 755.67,957.31 756.60,957.37 757.53,957.43 758.46,957.49 759.40,957.55 760.33,957.61 761.26,957.67 762.19,957.74 763.12,957.80 764.06,957.86 764.99,957.93 765.92,957.99 766.85,958.06 767.78,958.12 768.72,958.19 769.65,958.26 770.58,958.32 771.51,958.39 772.44,958.46 773.38,958.53 774.31,958.60 775.24,958.67 776.17,958.74 777.10,958.81 778.04,958.88 778.97,958.95 779.90,959.02 780.83,959.10 781.76,959.17 782.70,959.24 783.63,959.32 784.56,959.39 785.49,959.47 786.42,959.54 787.36,959.62 788.29,959.69 789.22,959.77 790.15,959.85 791.08,959.93 792.02,960.00 792.95,960.08 793.88,960.16 794.81,960.24 795.74,960.32 796.68,960.40 797.61,960.48 798.54,960.56 799.47,960.65 800.40,960.73 801.34,960.81 802.27,960.89 803.20,960.98 804.13,961.06 805.06,961.14 806.00,961.23 806.93,961.31 807.86,961.40 808.79,961.48 809.72,961.57 810.66,961.66 811.59,961.74 812.52,961.83 813.45,961.92 814.38,962.01 815.32,962.09 816.25,962.18 817.18,962.27 818.11,962.36 819.04,962.45 819.98,962.54 820.91,962.63 821.84,962.72 822.77,962.81 823.70,962.90 824.64,962.99 825.57,963.09 826.50,963.18 827.43,963.27 828.36,963.36 829.30,963.46 830.23,963.55 831.16,963.65 832.09,963.74 833.02,963.83 833.96,963.93 834.89,964.02 835.82,964.12 836.75,964.22 837.68,964.31 838.62,964.41 839.55,964.51 840.48,964.60 841.41,964.70 842.34,964.80 843.28,964.90 844.21,964.99 845.14,965.09 846.07,965.19 847.00,965.29 847.94,965.39 848.87,965.49 849.80,965.59 850.73,965.69 851.66,965.79 852.60,965.89 853.53,965.99 854.46,966.09 855.39,966.19 856.32,966.30 857.26,966.40 858.19,966.50 859.12,966.60 860.05,966.70 860.98,966.81 861.92,966.91 862.85,967.01 863.78,967.12 864.71,967.22 865.64,967.33 866.58,967.43 867.51,967.54 868.44,967.64 869.37,967.75 870.30,967.85 871.24,967.96 872.17,968.06 873.10,968.17 874.03,968.28 874.96,968.38 875.90,968.49 876.83,968.60 877.76,968.70 878.69,968.81 879.62,968.92 880.56,969.03 881.49,969.13 882.42,969.24 883.35,969.35 884.28,969.46 885.22,969.57 886.15,969.68 887.08,969.79 888.01,969.90 888.94,970.01 889.88,970.12 890.81,970.23 891.74,970.34 892.67,970.45 893.60,970.56 894.54,970.67 895.47,970.78 896.40,970.89 897.33,971.00 898.26,971.12 899.20,971.23 900.13,971.34 901.06,971.45 901.99,971.56 902.92,971.68 903.86,971.79 904.79,971.90 905.72,972.02 906.65,972.13 907.58,972.24 908.52,972.36 909.45,972.47 910.38,972.58 911.31,972.70 912.24,972.81 913.18,972.93 914.11,973.04 915.04,973.16 915.97,973.27 916.90,973.39 917.84,973.50 918.77,973.62 919.70,973.73 920.63,973.85 921.56,973.97 922.50,974.08 923.43,974.20 924.36,974.31 925.29,974.43 926.22,974.55 927.16,974.66 928.09,974.78 929.02,974.90 929.95,975.02 930.88,975.13 931.82,975.25 932.75,975.37 933.68,975.49 934.61,975.60 935.54,975.72 936.48,975.84 937.41,975.96 938.34,976.08 939.27,976.20 940.20,976.32 941.14,976.43 942.07,976.55 943.00,976.67 943.93,976.79 944.86,976.91 945.80,977.03 946.73,977.15 947.66,977.27 948.59,977.39 949.52,977.51 950.46,977.63 951.39,977.75 952.32,977.87 953.25,977.99 954.18,978.11 955.12,978.23 956.05,978.35 956.98,978.48 957.91,978.60 958.84,978.72 959.78,978.84 960.71,978.96 961.64,979.08 962.57,979.20 963.50,979.33 964.44,979.45 965.37,979.57 966.30,979.69 967.23,979.81 968.16,979.94 969.10,980.06 970.03,980.18 970.96,980.30 971.89,980.43 972.82,980.55 973.76,980.67 974.69,980.80 975.62,980.92 976.55,981.04 977.48,981.17 978.42,981.29 979.35,981.41 980.28,981.54 981.21,981.66 982.14,981.78 983.08,981.91 984.01,982.03 984.94,982.16 985.87,982.28 986.80,982.41 987.74,982.53 988.67,982.65 989.60,982.78 990.53,982.90 991.46,983.03 992.40,983.15 993.33,983.28 994.26,983.40 995.19,983.53 996.12,983.65 997.06,983.78 997.99,983.90 998.92,984.03 999.85,984.16 1000.78,984.28 1001.72,984.41 1002.65,984.53 1003.58,984.66 1004.51,984.78 1005.44,984.91 1006.38,985.04 1007.31,985.16 1008.24,985.29 1009.17,985.42 1010.10,985.54 1011.04,985.67 1011.97,985.79 1012.90,985.92 1013.83,986.05 1014.76,986.18 1015.70,986.30 1016.63,986.43 1017.56,986.56 1018.49,986.68 1019.42,986.81 1020.36,986.94 1021.29,987.06 1022.22,987.19 1023.15,987.32 1024.08,987.45 1025.02,987.57 1025.95,987.70 1026.88,987.83 1027.81,987.96 1028.74,988.09 1029.68,988.21 1030.61,988.34 1031.54,988.47 1032.47,988.60 1033.40,988.73 1034.34,988.85 1035.27,988.98 1036.20,989.11 1037.13,989.24 1038.06,989.37 1039.00,989.50 1039.93,989.62 1040.86,989.75 1041.79,989.88 1042.72,990.01 1043.66,990.14 1044.59,990.27 1045.52,990.40 1046.45,990.53 1047.38,990.65 1048.32,990.78 1049.25,990.91 1050.18,991.04 1051.11,991.17 1052.04,991.30 1052.98,991.43 1053.91,991.56 1054.84,991.69 1055.77,991.82 1056.70,991.95 1057.64,992.08 1058.57,992.21 1059.50,992.34 1060.43,992.47 1061.36,992.60 1062.30,992.73 1063.23,992.86 1064.16,992.99 1065.09,993.12 1066.02,993.25 1066.96,993.38 1067.89,993.51 1068.82,993.64 1069.75,993.77 1070.68,993.90 1071.62,994.03 1072.55,994.16 1073.48,994.29 1074.41,994.42 1075.34,994.55 1076.28,994.68 1077.21,994.81 1078.14,994.94 1079.07,995.07 1080.00,995.20 1080.94,995.33 1081.87,995.46 1082.80,995.60 1083.73,995.73 1084.66,995.86 1085.60,995.99 1086.53,996.12 1087.46,996.25 1088.39,996.38 1089.32,996.51 1090.26,996.64 1091.19,996.78 1092.12,996.91 1093.05,997.04 1093.98,997.17 1094.92,997.30 1095.85,997.43 1096.78,997.56 1097.71,997.70 1098.64,997.83 1099.58,997.96 1100.51,998.09 1101.44,998.22 1102.37,998.35 1103.30,998.49 1104.24,998.62 1105.17,998.75 1106.10,998.88 1107.03,999.01 1107.96,999.14 1108.90,999.28 1109.83,999.41 1110.76,999.54 1111.69,999.67 1112.62,999.80 1113.56,999.94 1114.49,1000.07 1115.42,1000.20 1116.35,1000.33 1117.28,1000.47 1118.22,1000.60 1119.15,1000.73 1120.08,1000.86 1121.01,1000.99 1121.94,1001.13 1122.88,1001.26 1123.81,1001.39 1124.74,1001.52 1125.67,1001.66 1126.60,1001.79 1127.54,1001.92 1128.47,1002.05 1129.40,1002.19 1130.33,1002.32 1131.26,1002.45 1132.20,1002.59 1133.13,1002.72 1134.06,1002.85 1134.99,1002.98 1135.92,1003.12 1136.86,1003.25 1137.79,1003.38 1138.72,1003.52 1139.65,1003.65 1140.58,1003.78 1141.52,1003.91 1142.45,1004.05 1143.38,1004.18 1144.31,1004.31 1145.24,1004.45 1146.18,1004.58 1147.11,1004.71 1148.04,1004.85 1148.97,1004.98 1149.90,1005.11 1150.84,1005.25 1151.77,1005.38 1152.70,1005.51 1153.63,1005.65 1154.56,1005.78 1155.50,1005.91 1156.43,1006.05 1157.36,1006.18 1158.29,1006.31 1159.22,1006.45 1160.16,1006.58 1161.09,1006.71 1162.02,1006.85 1162.95,1006.98 1163.88,1007.11 1164.82,1007.25 1165.75,1007.38 1166.68,1007.51 1167.61,1007.65 1168.54,1007.78 1169.48,1007.92 1170.41,1008.05 1171.34,1008.18 1172.27,1008.32 1173.20,1008.45 1174.14,1008.58 1175.07,1008.72 1176.00,1008.85 1176.93,1008.99 1177.86,1009.12 1178.80,1009.25 1179.73,1009.39 1180.66,1009.52 1181.59,1009.66 1182.52,1009.79 1183.46,1009.92 1184.39,1010.06 1185.32,1010.19 1186.25,1010.33 1187.18,1010.46 1188.12,1010.59 1189.05,1010.73 1189.98,1010.86 1190.91,1011.00 1191.84,1011.13 1192.78,1011.26 1193.71,1011.40 1194.64,1011.53 1195.57,1011.67 1196.50,1011.80 1197.44,1011.94 1198.37,1012.07 1199.30,1012.20 1200.23,1012.34 1201.16,1012.47 1202.10,1012.61 1203.03,1012.74 1203.96,1012.88 1204.89,1013.01 1205.82,1013.15 1206.76,1013.28 1207.69,1013.41 1208.62,1013.55 1209.55,1013.68 1210.48,1013.82 1211.42,1013.95 1212.35,1014.09 1213.28,1014.22 1214.21,1014.36 1215.14,1014.49 1216.08,1014.62 1217.01,1014.76 1217.94,1014.89 1218.87,1015.03 1219.80,1015.16 1220.74,1015.30 1221.67,1015.43 1222.60,1015.57 1223.53,1015.70 1224.46,1015.84 1225.40,1015.97 1226.33,1016.11 1227.26,1016.24 1228.19,1016.38 1229.12,1016.51 1230.06,1016.65 1230.99,1016.78 1231.92,1016.91 1232.85,1017.05 1233.78,1017.18 1234.72,1017.32 1235.65,1017.45 1236.58,1017.59 1237.51,1017.72 1238.44,1017.86 1239.38,1017.99 1240.31,1018.13 1241.24,1018.26 1242.17,1018.40 1243.10,1018.53 1244.04,1018.67 1244.97,1018.80 1245.90,1018.94 1246.83,1019.07 1247.76,1019.21 1248.70,1019.34 1249.63,1019.48 1250.56,1019.61 1251.49,1019.75 1252.42,1019.88 1253.36,1020.02 1254.29,1020.15 1255.22,1020.29 1256.15,1020.42 1257.08,1020.56 1258.02,1020.69 1258.95,1020.83 1259.88,1020.96 1260.81,1021.10 1261.74,1021.23 1262.68,1021.37 1263.61,1021.51 1264.54,1021.64 1265.47,1021.78 1266.40,1021.91 1267.34,1022.05 1268.27,1022.18 1269.20,1022.32 1270.13,1022.45 1271.06,1022.59 1272.00,1022.72 1272.93,1022.86 1273.86,1022.99 1274.79,1023.13 1275.72,1023.26 1276.66,1023.40 1277.59,1023.53 1278.52,1023.67 1279.45,1023.80 1280.38,1023.94 1281.32,1024.08 1282.25,1024.21 1283.18,1024.35 1284.11,1024.48 1285.04,1024.62 1285.98,1024.75 1286.91,1024.89 1287.84,1025.02 1288.77,1025.16 1289.70,1025.29 1290.64,1025.43 1291.57,1025.57 1292.50,1025.70 1293.43,1025.84 1294.36,1025.97 1295.30,1026.11 1296.23,1026.24 1297.16,1026.38 1298.09,1026.51 1299.02,1026.65 1299.96,1026.78 1300.89,1026.92 1301.82,1027.06 1302.75,1027.19 1303.68,1027.33 1304.62,1027.46 1305.55,1027.60 1306.48,1027.73 1307.41,1027.87 1308.34,1028.00 1309.28,1028.14 1310.21,1028.28 1311.14,1028.41 1312.07,1028.55 1313.00,1028.68 1313.94,1028.82 1314.87,1028.95 1315.80,1029.09 1316.73,1029.23 1317.66,1029.36 1318.60,1029.50 1319.53,1029.63 1320.46,1029.77 1321.39,1029.90 1322.32,1030.04 1323.26,1030.17 1324.19,1030.31 1325.12,1030.45 1326.05,1030.58 1326.98,1030.72 1327.92,1030.85 1328.85,1030.99 1329.78,1031.12 1330.71,1031.26 1331.64,1031.40 1332.58,1031.53 1333.51,1031.67 1334.44,1031.80 1335.37,1031.94 1336.30,1032.07 1337.24,1032.21 1338.17,1032.35 1339.10,1032.48 1340.03,1032.62 1340.96,1032.75 1341.90,1032.89 1342.83,1033.03 1343.76,1033.16 1344.69,1033.30 1345.62,1033.43 1346.56,1033.57 1347.49,1033.70 1348.42,1033.84 1349.35,1033.98 1350.28,1034.11 1351.22,1034.25 1352.15,1034.38 1353.08,1034.52 1354.01,1034.66 1354.94,1034.79 1355.88,1034.93 1356.81,1035.06 1357.74,1035.20 1358.67,1035.34 1359.60,1035.47 1360.54,1035.61 1361.47,1035.74 1362.40,1035.88 1363.33,1036.01 1364.26,1036.15 1365.20,1036.29 1366.13,1036.42 1367.06,1036.56 1367.99,1036.69 1368.92,1036.83 1369.86,1036.97 1370.79,1037.10 1371.72,1037.24 1372.65,1037.37 1373.58,1037.51 1374.52,1037.65 1375.45,1037.78 1376.38,1037.92 1377.31,1038.05 1378.24,1038.19 1379.18,1038.33 1380.11,1038.46 1381.04,1038.60 1381.97,1038.73 1382.90,1038.87 1383.84,1039.01 1384.77,1039.14 1385.70,1039.28 1386.63,1039.41 1387.56,1039.55 1388.50,1039.69 1389.43,1039.82 1390.36,1039.96 1391.29,1040.09 1392.22,1040.23 1393.16,1040.37 1394.09,1040.50 1395.02,1040.64 1395.95,1040.77 1396.88,1040.91 1397.82,1041.05 1398.75,1041.18 1399.68,1041.32 1400.61,1041.45 1401.54,1041.59 1402.48,1041.73 1403.41,1041.86 1404.34,1042.00 1405.27,1042.13 1406.20,1042.27 1407.14,1042.41 1408.07,1042.54 1409.00,1042.68 1409.93,1042.82 1410.86,1042.95 1411.80,1043.09 1412.73,1043.22 1413.66,1043.36 1414.59,1043.50 1415.52,1043.63 1416.46,1043.77 1417.39,1043.90 1418.32,1044.04 1419.25,1044.18 1420.18,1044.31 1421.12,1044.45 1422.05,1044.58 1422.98,1044.72 1423.91,1044.86 1424.84,1044.99 1425.78,1045.13 1426.71,1045.27 1427.64,1045.40 1428.57,1045.54 1429.50,1045.67 1430.44,1045.81 1431.37,1045.95 1432.30,1046.08 1433.23,1046.22 1434.16,1046.35 1435.10,1046.49 1436.03,1046.63 1436.96,1046.76 1437.89,1046.90 1438.82,1047.04 1439.76,1047.17 1440.69,1047.31 1441.62,1047.44 1442.55,1047.58 1443.48,1047.72 1444.42,1047.85 1445.35,1047.99 1446.28,1048.13 1447.21,1048.26 1448.14,1048.40 1449.08,1048.53 1450.01,1048.67 1450.94,1048.81 1451.87,1048.94 1452.80,1049.08 1453.74,1049.21 1454.67,1049.35 1455.60,1049.49 1456.53,1049.62 1457.46,1049.76 1458.40,1049.90 1459.33,1050.03 1460.26,1050.17 1461.19,1050.30 1462.12,1050.44 1463.06,1050.58 1463.99,1050.71 1464.92,1050.85 1465.85,1050.99 1466.78,1051.12 1467.72,1051.26 1468.65,1051.39 1469.58,1051.53 1470.51,1051.67 1471.44,1051.80 1472.38,1051.94 1473.31,1052.08 1474.24,1052.21 1475.17,1052.35 1476.10,1052.48 1477.04,1052.62 1477.97,1052.76 1478.90,1052.89 1479.83,1053.03 1480.76,1053.17 1481.70,1053.30 1482.63,1053.44 1483.56,1053.57 1484.49,1053.71 1485.42,1053.85 1486.36,1053.98 1487.29,1054.12 1488.22,1054.26 1489.15,1054.39 1490.08,1054.53 1491.02,1054.66 1491.95,1054.80 1492.88,1054.94 1493.81,1055.07 1494.74,1055.21 1495.68,1055.35 1496.61,1055.48 1497.54,1055.62 1498.47,1055.76 1499.40,1055.89 1500.34,1056.03 1501.27,1056.16 1502.20,1056.30 1503.13,1056.44 1504.06,1056.57 1505.00,1056.71 1505.93,1056.85 1506.86,1056.98 1507.79,1057.12 1508.72,1057.25 1509.66,1057.39 1510.59,1057.53 1511.52,1057.66 1512.45,1057.80 1513.38,1057.94 1514.32,1058.07 1515.25,1058.21 1516.18,1058.35 1517.11,1058.48 1518.04,1058.62 1518.98,1058.75 1519.91,1058.89 1520.84,1059.03 1521.77,1059.16 1522.70,1059.30 1523.64,1059.44 1524.57,1059.57 1525.50,1059.71 1526.43,1059.85 1527.36,1059.98 1528.30,1060.12 1529.23,1060.25 1530.16,1060.39 1531.09,1060.53 1532.02,1060.66 1532.96,1060.80 1533.89,1060.94 1534.82,1061.07 1535.75,1061.21 1536.68,1061.34 1537.62,1061.48 1538.55,1061.62 1539.48,1061.75 1540.41,1061.89 1541.34,1062.03 1542.28,1062.16 1543.21,1062.30 1544.14,1062.44 1545.07,1062.57 1546.00,1062.71 1546.94,1062.84 1547.87,1062.98 1548.80,1063.12 1549.73,1063.25 1550.66,1063.39 1551.60,1063.53 1552.53,1063.66 1553.46,1063.80 1554.39,1063.94 1555.32,1064.07 1556.26,1064.21 1557.19,1064.34 1558.12,1064.48 1559.05,1064.62 1559.98,1064.75 1560.92,1064.89 1561.85,1065.03 1562.78,1065.16 1563.71,1065.30 1564.64,1065.44 1565.58,1065.57 1566.51,1065.71 1567.44,1065.85 1568.37,1065.98 1569.30,1066.12 1570.24,1066.25 1571.17,1066.39 1572.10,1066.53 1573.03,1066.66 1573.96,1066.80 1574.90,1066.94 1575.83,1067.07 1576.76,1067.21 1577.69,1067.35 1578.62,1067.48 1579.56,1067.62 1580.49,1067.75 1581.42,1067.89 1582.35,1068.03 1583.28,1068.16 1584.22,1068.30 1585.15,1068.44 1586.08,1068.57 1587.01,1068.71 1587.94,1068.85 1588.88,1068.98 1589.81,1069.12 1590.74,1069.26 1591.67,1069.39 1592.60,1069.53 1593.54,1069.66 1594.47,1069.80 1595.40,1069.94 1596.33,1070.07 1597.26,1070.21 1598.20,1070.35 1599.13,1070.48 1600.06,1070.62 1600.99,1070.76 1601.92,1070.89 1602.86,1071.03 1603.79,1071.16 1604.72,1071.30 1605.65,1071.44 1606.58,1071.57 1607.52,1071.71 1608.45,1071.85 1609.38,1071.98 1610.31,1072.12 1611.24,1072.26 1612.18,1072.39 1613.11,1072.53 1614.04,1072.67 1614.97,1072.80 1615.90,1072.94 1616.84,1073.07 1617.77,1073.21 1618.70,1073.35 1619.63,1073.48 1620.56,1073.62 1621.50,1073.76 1622.43,1073.89 1623.36,1074.03 1624.29,1074.17 1625.22,1074.30 1626.16,1074.44 1627.09,1074.58 1628.02,1074.71 1628.95,1074.85 1629.88,1074.98 1630.82,1075.12 1631.75,1075.26 1632.68,1075.39 1633.61,1075.53 1634.54,1075.67 1635.48,1075.80 1636.41,1075.94 1637.34,1076.08 1638.27,1076.21 1639.20,1076.35 1640.14,1076.49 1641.07,1076.62 1642.00,1076.76 1642.93,1076.89 1643.86,1077.03 1644.80,1077.17 1645.73,1077.30 1646.66,1077.44 1647.59,1077.58 1648.52,1077.71 1649.46,1077.85 1650.39,1077.99 1651.32,1078.12 1652.25,1078.26 1653.18,1078.40 1654.12,1078.53 1655.05,1078.67 1655.98,1078.80 1656.91,1078.94 1657.84,1079.08 1658.78,1079.21 1659.71,1079.35 1660.64,1079.49 1661.57,1079.62 1662.50,1079.76 1663.44,1079.90 1664.37,1080.03 1665.30,1080.17 1666.23,1080.31 1667.16,1080.44 1668.10,1080.58 1669.03,1080.72 1669.96,1080.85 1670.89,1080.99 1671.82,1081.12 1672.76,1081.26 1673.69,1081.40 1674.62,1081.53 1675.55,1081.67 1676.48,1081.81 1677.42,1081.94 1678.35,1082.08 1679.28,1082.22 1680.21,1082.35 1681.14,1082.49 1682.08,1082.63 1683.01,1082.76 1683.94,1082.90 1684.87,1083.03 1685.80,1083.17 1686.74,1083.31 1687.67,1083.44 1688.60,1083.58 1689.53,1083.72 1690.46,1083.85 1691.40,1083.99 1692.33,1084.13 1693.26,1084.26 1694.19,1084.40 1695.12,1084.54 1696.06,1084.67 1696.99,1084.81 1697.92,1084.95 1698.85,1085.08 1699.78,1085.22 1700.72,1085.35 1701.65,1085.49 1702.58,1085.63 1703.51,1085.76 1704.44,1085.90 1705.38,1086.04 1706.31,1086.17 1707.24,1086.31 1708.17,1086.45 1709.10,1086.58 1710.04,1086.72 1710.97,1086.86 1711.90,1086.99 1712.83,1087.13 1713.76,1087.27 1714.70,1087.40 1715.63,1087.54 1716.56,1087.67 1717.49,1087.81 1718.42,1087.95 1719.36,1088.08 1720.29,1088.22 1721.22,1088.36 1722.15,1088.49 1723.08,1088.63 1724.02,1088.77 1724.95,1088.90 1725.88,1089.04 1726.81,1089.18 1727.74,1089.31 1728.68,1089.45 1729.61,1089.59 1730.54,1089.72 1731.47,1089.86 1732.40,1089.99 1733.34,1090.13 1734.27,1090.27 1735.20,1090.40 1736.13,1090.54 1737.06,1090.68 1738.00,1090.81 1738.93,1090.95 1739.86,1091.09 1740.79,1091.22 1741.72,1091.36 1742.66,1091.50 1743.59,1091.63 1744.52,1091.77 1745.45,1091.91 1746.38,1092.04 1747.32,1092.18 1748.25,1092.31 1749.18,1092.45 1750.11,1092.59 1751.04,1092.72 1751.98,1092.86 1752.91,1093.00 1753.84,1093.13 1754.77,1093.27 1755.70,1093.41 1756.64,1093.54 1757.57,1093.68 1758.50,1093.82 1759.43,1093.95 1760.36,1094.09 1761.30,1094.23 1762.23,1094.36 1763.16,1094.50 1764.09,1094.63 1765.02,1094.77 1765.96,1094.91 1766.89,1095.04 1767.82,1095.18 1768.75,1095.32 1769.68,1095.45 1770.62,1095.59 1771.55,1095.73 1772.48,1095.86 1773.41,1096.00 1774.34,1096.14 1775.28,1096.27 1776.21,1096.41 1777.14,1096.55 1778.07,1096.68 1779.00,1096.82 1779.94,1096.95 1780.87,1097.09 1781.80,1097.23 1782.73,1097.36 1783.66,1097.50 1784.60,1097.64 1785.53,1097.77 1786.46,1097.91 1787.39,1098.05 1788.32,1098.18 1789.26,1098.32 1790.19,1098.46 1791.12,1098.59 1792.05,1098.73 1792.98,1098.87 1793.92,1099.00 1794.85,1099.14 1795.78,1099.27 1796.71,1099.41 1797.64,1099.55 1798.58,1099.68 1799.51,1099.82 1800.44,1099.96 1801.37,1100.09 1802.30,1100.23 1803.24,1100.37 1804.17,1100.50 1805.10,1100.64 1806.03,1100.78 1806.96,1100.91 1807.90,1101.05 1808.83,1101.19 1809.76,1101.32 1810.69,1101.46 1811.62,1101.60 1812.56,1101.73 1813.49,1101.87 1814.42,1102.00 1815.35,1102.14 1816.28,1102.28 1817.22,1102.41 1818.15,1102.55 1819.08,1102.69 1820.01,1102.82 1820.94,1102.96 1821.88,1103.10 1822.81,1103.23 1823.74,1103.37 1824.67,1103.51 1825.60,1103.64 1826.54,1103.78 1827.47,1103.92 1828.40,1104.05 1829.33,1104.19 1830.26,1104.32 1831.20,1104.46 1832.13,1104.60 1833.06,1104.73 1833.99,1104.87 1834.92,1105.01 1835.86,1105.14 1836.79,1105.28 1837.72,1105.42 1838.65,1105.55 1839.58,1105.69 1840.52,1105.83 1841.45,1105.96 1842.38,1106.10 1843.31,1106.24 1844.24,1106.37 1845.18,1106.51 1846.11,1106.65 1847.04,1106.78 1847.97,1106.92 1848.90,1107.05 1849.84,1107.19 1850.77,1107.33 1851.70,1107.46 1852.63,1107.60 1853.56,1107.74 1854.50,1107.87 1855.43,1108.01 1856.36,1108.15 1857.29,1108.28 1858.22,1108.42 1859.16,1108.56 1860.09,1108.69 1861.02,1108.83 1861.95,1108.97 1862.88,1109.10 1863.82,1109.24 1864.75,1109.37 1865.68,1109.51 1866.61,1109.65 1867.54,1109.78 1868.48,1109.92 1869.41,1110.06 1870.34,1110.19 1871.27,1110.33 1872.20,1110.47 1873.14,1110.60 1874.07,1110.74 1875.00,1110.88 1875.93,1111.01 1876.86,1111.15 1877.80,1111.29 1878.73,1111.42 1879.66,1111.56 1880.59,1111.70 1881.52,1111.83 1882.46,1111.97 1883.39,1112.10 1884.32,1112.24 1885.25,1112.38 1886.18,1112.51 1887.12,1112.65 1888.05,1112.79 1888.98,1112.92 1889.91,1113.06 1890.84,1113.20 1891.78,1113.33 1892.71,1113.47 1893.64,1113.61 1894.57,1113.74 1895.50,1113.88 1896.44,1114.02 1897.37,1114.15 1898.30,1114.29 1899.23,1114.43 1900.16,1114.56 1901.10,1114.70 1902.03,1114.83 1902.96,1114.97 1903.89,1115.11 1904.82,1115.24 1905.76,1115.38 1906.69,1115.52 1907.62,1115.65 1908.55,1115.79 1909.48,1115.93 1910.42,1116.06 1911.35,1116.20 1912.28,1116.34 1913.21,1116.47 1914.14,1116.61 1915.08,1116.75 1916.01,1116.88 1916.94,1117.02 1917.87,1117.15 1918.80,1117.29 1919.74,1117.43 1920.67,1117.56 1921.60,1117.70 1922.53,1117.84 1923.46,1117.97 1924.40,1118.11 1925.33,1118.25 1926.26,1118.38 1927.19,1118.52 1928.12,1118.66 1929.06,1118.79 1929.99,1118.93 1930.92,1119.07 1931.85,1119.20 1932.78,1119.34 1933.72,1119.48 1934.65,1119.61 1935.58,1119.75 1936.51,1119.88 1937.44,1120.02 1938.38,1120.16 1939.31,1120.29 1940.24,1120.43 1941.17,1120.57 1942.10,1120.70 1943.04,1120.84 1943.97,1120.98 1944.90,1121.11 1945.83,1121.25 1946.76,1121.39 1947.70,1121.52 1948.63,1121.66 1949.56,1121.80 1950.49,1121.93 1951.42,1122.07 1952.36,1122.21 1953.29,1122.34 1954.22,1122.48 1955.15,1122.61 1956.08,1122.75 1957.02,1122.89 1957.95,1123.02 1958.88,1123.16 1959.81,1123.30 1960.74,1123.43 1961.68,1123.57 1962.61,1123.71 1963.54,1123.84 1964.47,1123.98 1965.40,1124.12 1966.34,1124.25 1967.27,1124.39 1968.20,1124.53 1969.13,1124.66 1970.06,1124.80 1971.00,1124.94 1971.93,1125.07 1972.86,1125.21 1973.79,1125.34 1974.72,1125.48 1975.66,1125.62 1976.59,1125.75 1977.52,1125.89 1978.45,1126.03 1979.38,1126.16 1980.32,1126.30 1981.25,1126.44 1982.18,1126.57 1983.11,1126.71 1984.04,1126.85 1984.98,1126.98 1985.91,1127.12 1986.84,1127.26 1987.77,1127.39 1988.70,1127.53 1989.64,1127.67 1990.57,1127.80 1991.50,1127.94 1992.43,1128.07 1993.36,1128.21 1994.30,1128.35 1995.23,1128.48 1996.16,1128.62 1997.09,1128.76 1998.02,1128.89 1998.96,1129.03 1999.89,1129.17 2000.82,1129.30 2001.75,1129.44 2002.68,1129.58 2003.62,1129.71 2004.55,1129.85 2005.48,1129.99 2006.41,1130.12 2007.34,1130.26 2008.28,1130.39 2009.21,1130.53 2010.14,1130.67 2011.07,1130.80 2012.00,1130.94 2012.94,1131.08 2013.87,1131.21 2014.80,1131.35 2015.73,1131.49 2016.66,1131.62 2017.60,1131.76 2018.53,1131.90 2019.46,1132.03 2020.39,1132.17 2021.32,1132.31 2022.26,1132.44 2023.19,1132.58 2024.12,1132.72 2025.05,1132.85 2025.98,1132.99 2026.92,1133.12 2027.85,1133.26 2028.78,1133.40 2029.71,1133.53 2030.64,1133.67 2031.58,1133.81 2032.51,1133.94 2033.44,1134.08 2034.37,1134.22 2035.30,1134.35 2036.24,1134.49 2037.17,1134.63 2038.10,1134.76 2039.03,1134.90 2039.96,1135.04 2040.90,1135.17 2041.83,1135.31 2042.76,1135.45 2043.69,1135.58 2044.62,1135.72 2045.56,1135.85 2046.49,1135.99 2047.42,1136.13 2048.35,1136.26 2049.28,1136.40 2050.22,1136.54 2051.15,1136.67 2052.08,1136.81 2053.01,1136.95 2053.94,1137.08 2054.88,1137.22 2055.81,1137.36 2056.74,1137.49 2057.67,1137.63 2058.60,1137.77 2059.54,1137.90 2060.47,1138.04 2061.40,1138.18 2062.33,1138.31 2063.26,1138.45 2064.20,1138.58 2065.13,1138.72 2066.06,1138.86 2066.99,1138.99 2067.92,1139.13 2068.86,1139.27 2069.79,1139.40 2070.72,1139.54 2071.65,1139.68 2072.58,1139.81 2073.52,1139.95 2074.45,1140.09 2075.38,1140.22 2076.31,1140.36 2077.24,1140.50 2078.18,1140.63 2079.11,1140.77 2080.04,1140.91 2080.97,1141.04 2081.90,1141.18 2082.84,1141.31 2083.77,1141.45 2084.70,1141.59 2085.63,1141.72 2086.56,1141.86 2087.50,1142.00 2088.43,1142.13 2089.36,1142.27 2090.29,1142.41 2091.22,1142.54 2092.16,1142.68 2093.09,1142.82 2094.02,1142.95 2094.95,1143.09 2095.88,1143.23 2096.82,1143.36 2097.75,1143.50 2098.68,1143.64 2099.61,1143.77 2100.54,1143.91 2101.48,1144.04 2102.41,1144.18 2103.34,1144.32 2104.27,1144.45 2105.20,1144.59 2106.14,1144.73 2107.07,1144.86 2108.00,1145.00"/>
</g>
<path id="vline" fill="#000" shape-rendering="crispEdges" d="M430.50 1483.80L433.00 1486.30L433.00 1509.40L430.50 1511.90L428.00 1509.40L428.00 1486.30ZM430.50 1442.98L433.00 1445.48L433.00 1469.68L430.50 1472.18L428.00 1469.68L428.00 1445.48ZM430.50 1402.16L433.00 1404.66L433.00 1428.86L430.50 1431.36L428.00 1428.86L428.00 1404.66ZM430.50 1361.34L433.00 1363.84L433.00 1388.04L430.50 1390.54L428.00 1388.04L428.00 1363.84ZM430.50 1320.52L433.00 1323.02L433.00 1347.22L430.50 1349.72L428.00 1347.22L428.00 1323.02ZM430.50 1279.70L433.00 1282.20L433.00 1306.40L430.50 1308.90L428.00 1306.40L428.00 1282.20ZM430.50 1238.88L433.00 1241.38L433.00 1265.58L430.50 1268.08L428.00 1265.58L428.00 1241.38ZM430.50 1198.06L433.00 1200.56L433.00 1224.76L430.50 1227.26L428.00 1224.76L428.00 1200.56ZM430.50 1157.24L433.00 1159.74L433.00 1183.94L430.50 1186.44L428.00 1183.94L428.00 1159.74ZM430.50 1116.42L433.00 1118.92L433.00 1143.12L430.50 1145.62L428.00 1143.12L428.00 1118.92ZM430.50 1075.60L433.00 1078.10L433.00 1102.30L430.50 1104.80L428.00 1102.30L428.00 1078.10ZM430.50 1034.78L433.00 1037.28L433.00 1061.48L430.50 1063.98L428.00 1061.48L428.00 1037.28ZM430.50 993.96L433.00 996.46L433.00 1020.66L430.50 1023.16L428.00 1020.66L428.00 996.46ZM430.50 953.14L433.00 955.64L433.00 979.84L430.50 982.34L428.00 979.84L428.00 955.64ZM430.50 912.32L433.00 914.82L433.00 939.02L430.50 941.52L428.00 939.02L428.00 914.82ZM430.50 871.50L433.00 874.00L433.00 898.20L430.50 900.70L428.00 898.20L428.00 874.00ZM430.50 830.68L433.00 833.18L433.00 857.38L430.50 859.88L428.00 857.38L428.00 833.18ZM430.50 789.86L433.00 792.36L433.00 816.56L430.50 819.06L428.00 816.56L428.00 792.36ZM430.50 749.04L433.00 751.54L433.00 775.74L430.50 778.24L428.00 775.74L428.00 751.54ZM430.50 708.22L433.00 710.72L433.00 734.92L430.50 737.42L428.00 734.92L428.00 710.72ZM430.50 667.40L433.00 669.90L433.00 694.10L430.50 696.60L428.00 694.10L428.00 669.90ZM430.50 626.58L433.00 629.08L433.00 653.28L430.50 655.78L428.00 653.28L428.00 629.08ZM430.50 585.76L433.00 588.26L433.00 612.46L430.50 614.96L428.00 612.46L428.00 588.26ZM430.50 544.94L433.00 547.44L433.00 571.64L430.50 574.14L428.00 571.64L428.00 547.44ZM430.50 504.12L433.00 506.62L433.00 530.82L430.50 533.32L428.00 530.82L428.00 506.62ZM430.50 463.30L433.00 465.80L433.00 490.00L430.50 492.50L428.00 490.00L428.00 465.80ZM430.50 422.48L433.00 424.98L433.00 449.18L430.50 451.68L428.00 449.18L428.00 424.98ZM430.50 381.66L433.00 384.16L433.00 408.36L430.50 410.86L428.00 408.36L428.00 384.16ZM430.50 340.84L433.00 343.34L433.00 367.54L430.50 370.04L428.00 367.54L428.00 343.34ZM430.50 300.02L433.00 302.52L433.00 326.72L430.50 329.22L428.00 326.72L428.00 302.52ZM430.50 259.20L433.00 261.70L433.00 285.90L430.50 288.40L428.00 285.90L428.00 261.70ZM430.50 218.38L433.00 220.88L433.00 245.08L430.50 247.58L428.00 245.08L428.00 220.88ZM430.50 177.56L433.00 180.06L433.00 204.26L430.50 206.76L428.00 204.26L428.00 180.06ZM430.50 136.74L433.00 139.24L433.00 163.44L430.50 165.94L428.00 163.44L428.00 139.24ZM430.50 95.92L433.00 98.42L433.00 122.62L430.50 125.12L428.00 122.62L428.00 98.42ZM430.50 55.10L433.00 57.60L433.00 81.80L430.50 84.30L428.00 81.80L428.00 57.60Z"/>
<g id="arrows" fill="#000" shape-rendering="crispEdges">
<path shape-rendering="geometricPrecision" d="M283.11 348.50L284.81 345.90L289.41 345.90L291.11 348.50L289.41 351.10L284.81 351.10ZM293.40 348.50L295.10 345.90L299.70 345.90L301.40 348.50L299.70 351.10L295.10 351.10ZM303.69 348.50L305.39 345.90L309.99 345.90L311.69 348.50L309.99 351.10L305.39 351.10ZM313.99 348.50L315.69 345.90L320.29 345.90L321.99 348.50L320.29 351.10L315.69 351.10ZM324.28 348.50L325.98 345.90L330.58 345.90L332.28 348.50L330.58 351.10L325.98 351.10ZM334.58 348.50L336.28 345.90L340.88 345.90L342.58 348.50L340.88 351.10L336.28 351.10ZM344.87 348.50L346.57 345.90L351.17 345.90L352.87 348.50L351.17 351.10L346.57 351.10ZM355.17 348.50L356.87 345.90L361.47 345.90L363.17 348.50L361.47 351.10L356.87 351.10ZM365.46 348.50L367.16 345.90L371.76 345.90L373.46 348.50L371.76 351.10L367.16 351.10ZM375.75 348.50L377.45 345.90L382.05 345.90L383.75 348.50L382.05 351.10L377.45 351.10ZM386.05 348.50L387.75 345.90L392.35 345.90L394.05 348.50L392.35 351.10L387.75 351.10Z"/>
<polygon points="244.40,348.50 290.20,332.90 290.20,364.10"/>
<polygon points="433.40,348.50 387.60,332.90 387.60,364.10"/>
<path shape-rendering="geometricPrecision" d="M472.41 348.50L474.11 345.90L478.71 345.90L480.41 348.50L478.71 351.10L474.11 351.10ZM482.70 348.50L484.40 345.90L489.00 345.90L490.70 348.50L489.00 351.10L484.40 351.10ZM492.99 348.50L494.69 345.90L499.29 345.90L500.99 348.50L499.29 351.10L494.69 351.10ZM503.29 348.50L504.99 345.90L509.59 345.90L511.29 348.50L509.59 351.10L504.99 351.10ZM513.58 348.50L515.28 345.90L519.88 345.90L521.58 348.50L519.88 351.10L515.28 351.10ZM523.88 348.50L525.58 345.90L530.18 345.90L531.88 348.50L530.18 351.10L525.58 351.10ZM534.17 348.50L535.87 345.90L540.47 345.90L542.17 348.50L540.47 351.10L535.87 351.10ZM544.47 348.50L546.17 345.90L550.77 345.90L552.47 348.50L550.77 351.10L546.17 351.10ZM554.76 348.50L556.46 345.90L561.06 345.90L562.76 348.50L561.06 351.10L556.46 351.10ZM565.05 348.50L566.75 345.90L571.35 345.90L573.05 348.50L571.35 351.10L566.75 351.10ZM575.35 348.50L577.05 345.90L581.65 345.90L583.35 348.50L581.65 351.10L577.05 351.10ZM585.64 348.50L587.34 345.90L591.94 345.90L593.64 348.50L591.94 351.10L587.34 351.10ZM595.94 348.50L597.64 345.90L602.24 345.90L603.94 348.50L602.24 351.10L597.64 351.10ZM606.23 348.50L607.93 345.90L612.53 345.90L614.23 348.50L612.53 351.10L607.93 351.10ZM616.53 348.50L618.23 345.90L622.83 345.90L624.53 348.50L622.83 351.10L618.23 351.10ZM626.82 348.50L628.52 345.90L633.12 345.90L634.82 348.50L633.12 351.10L628.52 351.10ZM637.11 348.50L638.81 345.90L643.41 345.90L645.11 348.50L643.41 351.10L638.81 351.10ZM647.41 348.50L649.11 345.90L653.71 345.90L655.41 348.50L653.71 351.10L649.11 351.10ZM657.70 348.50L659.40 345.90L664.00 345.90L665.70 348.50L664.00 351.10L659.40 351.10ZM668.00 348.50L669.70 345.90L674.30 345.90L676.00 348.50L674.30 351.10L669.70 351.10ZM678.29 348.50L679.99 345.90L684.59 345.90L686.29 348.50L684.59 351.10L679.99 351.10ZM688.59 348.50L690.29 345.90L694.89 345.90L696.59 348.50L694.89 351.10L690.29 351.10ZM698.88 348.50L700.58 345.90L705.18 345.90L706.88 348.50L705.18 351.10L700.58 351.10ZM709.17 348.50L710.87 345.90L715.47 345.90L717.17 348.50L715.47 351.10L710.87 351.10ZM719.47 348.50L721.17 345.90L725.77 345.90L727.47 348.50L725.77 351.10L721.17 351.10ZM729.76 348.50L731.46 345.90L736.06 345.90L737.76 348.50L736.06 351.10L731.46 351.10ZM740.06 348.50L741.76 345.90L746.36 345.90L748.06 348.50L746.36 351.10L741.76 351.10ZM750.35 348.50L752.05 345.90L756.65 345.90L758.35 348.50L756.65 351.10L752.05 351.10ZM760.65 348.50L762.35 345.90L766.95 345.90L768.65 348.50L766.95 351.10L762.35 351.10ZM770.94 348.50L772.64 345.90L777.24 345.90L778.94 348.50L777.24 351.10L772.64 351.10ZM781.23 348.50L782.93 345.90L787.53 345.90L789.23 348.50L787.53 351.10L782.93 351.10ZM791.53 348.50L793.23 345.90L797.83 345.90L799.53 348.50L797.83 351.10L793.23 351.10ZM801.82 348.50L803.52 345.90L808.12 345.90L809.82 348.50L808.12 351.10L803.52 351.10ZM812.12 348.50L813.82 345.90L818.42 345.90L820.12 348.50L818.42 351.10L813.82 351.10ZM822.41 348.50L824.11 345.90L828.71 345.90L830.41 348.50L828.71 351.10L824.11 351.10ZM832.71 348.50L834.41 345.90L839.01 345.90L840.71 348.50L839.01 351.10L834.41 351.10ZM843.00 348.50L844.70 345.90L849.30 345.90L851.00 348.50L849.30 351.10L844.70 351.10ZM853.29 348.50L854.99 345.90L859.59 345.90L861.29 348.50L859.59 351.10L854.99 351.10ZM863.59 348.50L865.29 345.90L869.89 345.90L871.59 348.50L869.89 351.10L865.29 351.10ZM873.88 348.50L875.58 345.90L880.18 345.90L881.88 348.50L880.18 351.10L875.58 351.10ZM884.18 348.50L885.88 345.90L890.48 345.90L892.18 348.50L890.48 351.10L885.88 351.10ZM894.47 348.50L896.17 345.90L900.77 345.90L902.47 348.50L900.77 351.10L896.17 351.10ZM904.77 348.50L906.47 345.90L911.07 345.90L912.77 348.50L911.07 351.10L906.47 351.10ZM915.06 348.50L916.76 345.90L921.36 345.90L923.06 348.50L921.36 351.10L916.76 351.10ZM925.35 348.50L927.05 345.90L931.65 345.90L933.35 348.50L931.65 351.10L927.05 351.10ZM935.65 348.50L937.35 345.90L941.95 345.90L943.65 348.50L941.95 351.10L937.35 351.10ZM945.94 348.50L947.64 345.90L952.24 345.90L953.94 348.50L952.24 351.10L947.64 351.10ZM956.24 348.50L957.94 345.90L962.54 345.90L964.24 348.50L962.54 351.10L957.94 351.10ZM966.53 348.50L968.23 345.90L972.83 345.90L974.53 348.50L972.83 351.10L968.23 351.10ZM976.83 348.50L978.53 345.90L983.13 345.90L984.83 348.50L983.13 351.10L978.53 351.10ZM987.12 348.50L988.82 345.90L993.42 345.90L995.12 348.50L993.42 351.10L988.82 351.10ZM997.41 348.50L999.12 345.90L1003.71 345.90L1005.41 348.50L1003.71 351.10L999.12 351.10ZM1007.71 348.50L1009.41 345.90L1014.01 345.90L1015.71 348.50L1014.01 351.10L1009.41 351.10ZM1018.00 348.50L1019.70 345.90L1024.30 345.90L1026.00 348.50L1024.30 351.10L1019.70 351.10ZM1028.30 348.50L1030.00 345.90L1034.60 345.90L1036.30 348.50L1034.60 351.10L1030.00 351.10ZM1038.59 348.50L1040.29 345.90L1044.89 345.90L1046.59 348.50L1044.89 351.10L1040.29 351.10ZM1048.89 348.50L1050.59 345.90L1055.19 345.90L1056.89 348.50L1055.19 351.10L1050.59 351.10ZM1059.18 348.50L1060.88 345.90L1065.48 345.90L1067.18 348.50L1065.48 351.10L1060.88 351.10ZM1069.48 348.50L1071.18 345.90L1075.78 345.90L1077.48 348.50L1075.78 351.10L1071.18 351.10ZM1079.77 348.50L1081.47 345.90L1086.07 345.90L1087.77 348.50L1086.07 351.10L1081.47 351.10ZM1090.06 348.50L1091.76 345.90L1096.36 345.90L1098.06 348.50L1096.36 351.10L1091.76 351.10ZM1100.36 348.50L1102.06 345.90L1106.66 345.90L1108.36 348.50L1106.66 351.10L1102.06 351.10ZM1110.65 348.50L1112.35 345.90L1116.95 345.90L1118.65 348.50L1116.95 351.10L1112.35 351.10ZM1120.95 348.50L1122.65 345.90L1127.25 345.90L1128.95 348.50L1127.25 351.10L1122.65 351.10ZM1131.24 348.50L1132.94 345.90L1137.54 345.90L1139.24 348.50L1137.54 351.10L1132.94 351.10ZM1141.54 348.50L1143.24 345.90L1147.84 345.90L1149.54 348.50L1147.84 351.10L1143.24 351.10ZM1151.83 348.50L1153.53 345.90L1158.13 345.90L1159.83 348.50L1158.13 351.10L1153.53 351.10ZM1162.12 348.50L1163.82 345.90L1168.42 345.90L1170.12 348.50L1168.42 351.10L1163.82 351.10ZM1172.42 348.50L1174.12 345.90L1178.72 345.90L1180.42 348.50L1178.72 351.10L1174.12 351.10ZM1182.71 348.50L1184.41 345.90L1189.01 345.90L1190.71 348.50L1189.01 351.10L1184.41 351.10ZM1193.01 348.50L1194.71 345.90L1199.31 345.90L1201.01 348.50L1199.31 351.10L1194.71 351.10ZM1203.30 348.50L1205.00 345.90L1209.60 345.90L1211.30 348.50L1209.60 351.10L1205.00 351.10ZM1213.60 348.50L1215.30 345.90L1219.90 345.90L1221.60 348.50L1219.90 351.10L1215.30 351.10ZM1223.89 348.50L1225.59 345.90L1230.19 345.90L1231.89 348.50L1230.19 351.10L1225.59 351.10ZM1234.18 348.50L1235.88 345.90L1240.48 345.90L1242.18 348.50L1240.48 351.10L1235.88 351.10ZM1244.48 348.50L1246.18 345.90L1250.78 345.90L1252.48 348.50L1250.78 351.10L1246.18 351.10ZM1254.77 348.50L1256.47 345.90L1261.07 345.90L1262.77 348.50L1261.07 351.10L1256.47 351.10ZM1265.07 348.50L1266.77 345.90L1271.37 345.90L1273.07 348.50L1271.37 351.10L1266.77 351.10ZM1275.36 348.50L1277.06 345.90L1281.66 345.90L1283.36 348.50L1281.66 351.10L1277.06 351.10ZM1285.66 348.50L1287.36 345.90L1291.96 345.90L1293.66 348.50L1291.96 351.10L1287.36 351.10ZM1295.95 348.50L1297.65 345.90L1302.25 345.90L1303.95 348.50L1302.25 351.10L1297.65 351.10ZM1306.24 348.50L1307.94 345.90L1312.54 345.90L1314.24 348.50L1312.54 351.10L1307.94 351.10ZM1316.54 348.50L1318.24 345.90L1322.84 345.90L1324.54 348.50L1322.84 351.10L1318.24 351.10ZM1326.83 348.50L1328.53 345.90L1333.13 345.90L1334.83 348.50L1333.13 351.10L1328.53 351.10ZM1337.13 348.50L1338.83 345.90L1343.43 345.90L1345.13 348.50L1343.43 351.10L1338.83 351.10ZM1347.42 348.50L1349.12 345.90L1353.72 345.90L1355.42 348.50L1353.72 351.10L1349.12 351.10ZM1357.72 348.50L1359.42 345.90L1364.02 345.90L1365.72 348.50L1364.02 351.10L1359.42 351.10ZM1368.01 348.50L1369.71 345.90L1374.31 345.90L1376.01 348.50L1374.31 351.10L1369.71 351.10ZM1378.30 348.50L1380.00 345.90L1384.60 345.90L1386.30 348.50L1384.60 351.10L1380.00 351.10ZM1388.60 348.50L1390.30 345.90L1394.90 345.90L1396.60 348.50L1394.90 351.10L1390.30 351.10ZM1398.89 348.50L1400.59 345.90L1405.19 345.90L1406.89 348.50L1405.19 351.10L1400.59 351.10ZM1409.19 348.50L1410.89 345.90L1415.49 345.90L1417.19 348.50L1415.49 351.10L1410.89 351.10ZM1419.48 348.50L1421.18 345.90L1425.78 345.90L1427.48 348.50L1425.78 351.10L1421.18 351.10ZM1429.78 348.50L1431.48 345.90L1436.08 345.90L1437.78 348.50L1436.08 351.10L1431.48 351.10ZM1440.07 348.50L1441.77 345.90L1446.37 345.90L1448.07 348.50L1446.37 351.10L1441.77 351.10ZM1450.36 348.50L1452.06 345.90L1456.66 345.90L1458.36 348.50L1456.66 351.10L1452.06 351.10ZM1460.66 348.50L1462.36 345.90L1466.96 345.90L1468.66 348.50L1466.96 351.10L1462.36 351.10ZM1470.95 348.50L1472.65 345.90L1477.25 345.90L1478.95 348.50L1477.25 351.10L1472.65 351.10ZM1481.25 348.50L1482.95 345.90L1487.55 345.90L1489.25 348.50L1487.55 351.10L1482.95 351.10ZM1491.54 348.50L1493.24 345.90L1497.84 345.90L1499.54 348.50L1497.84 351.10L1493.24 351.10ZM1501.84 348.50L1503.54 345.90L1508.14 345.90L1509.84 348.50L1508.14 351.10L1503.54 351.10ZM1512.13 348.50L1513.83 345.90L1518.43 345.90L1520.13 348.50L1518.43 351.10L1513.83 351.10ZM1522.42 348.50L1524.12 345.90L1528.72 345.90L1530.42 348.50L1528.72 351.10L1524.12 351.10ZM1532.72 348.50L1534.42 345.90L1539.02 345.90L1540.72 348.50L1539.02 351.10L1534.42 351.10ZM1543.01 348.50L1544.71 345.90L1549.31 345.90L1551.01 348.50L1549.31 351.10L1544.71 351.10ZM1553.31 348.50L1555.01 345.90L1559.61 345.90L1561.31 348.50L1559.61 351.10L1555.01 351.10ZM1563.60 348.50L1565.30 345.90L1569.90 345.90L1571.60 348.50L1569.90 351.10L1565.30 351.10ZM1573.90 348.50L1575.60 345.90L1580.20 345.90L1581.90 348.50L1580.20 351.10L1575.60 351.10ZM1584.19 348.50L1585.89 345.90L1590.49 345.90L1592.19 348.50L1590.49 351.10L1585.89 351.10ZM1594.48 348.50L1596.18 345.90L1600.78 345.90L1602.48 348.50L1600.78 351.10L1596.18 351.10ZM1604.78 348.50L1606.48 345.90L1611.08 345.90L1612.78 348.50L1611.08 351.10L1606.48 351.10ZM1615.07 348.50L1616.77 345.90L1621.37 345.90L1623.07 348.50L1621.37 351.10L1616.77 351.10ZM1625.37 348.50L1627.07 345.90L1631.67 345.90L1633.37 348.50L1631.67 351.10L1627.07 351.10ZM1635.66 348.50L1637.36 345.90L1641.96 345.90L1643.66 348.50L1641.96 351.10L1637.36 351.10ZM1645.96 348.50L1647.66 345.90L1652.26 345.90L1653.96 348.50L1652.26 351.10L1647.66 351.10ZM1656.25 348.50L1657.95 345.90L1662.55 345.90L1664.25 348.50L1662.55 351.10L1657.95 351.10ZM1666.54 348.50L1668.24 345.90L1672.84 345.90L1674.54 348.50L1672.84 351.10L1668.24 351.10ZM1676.84 348.50L1678.54 345.90L1683.14 345.90L1684.84 348.50L1683.14 351.10L1678.54 351.10ZM1687.13 348.50L1688.83 345.90L1693.43 345.90L1695.13 348.50L1693.43 351.10L1688.83 351.10ZM1697.43 348.50L1699.13 345.90L1703.73 345.90L1705.43 348.50L1703.73 351.10L1699.13 351.10ZM1707.72 348.50L1709.42 345.90L1714.02 345.90L1715.72 348.50L1714.02 351.10L1709.42 351.10ZM1718.02 348.50L1719.72 345.90L1724.32 345.90L1726.02 348.50L1724.32 351.10L1719.72 351.10ZM1728.31 348.50L1730.01 345.90L1734.61 345.90L1736.31 348.50L1734.61 351.10L1730.01 351.10ZM1738.60 348.50L1740.30 345.90L1744.90 345.90L1746.60 348.50L1744.90 351.10L1740.30 351.10ZM1748.90 348.50L1750.60 345.90L1755.20 345.90L1756.90 348.50L1755.20 351.10L1750.60 351.10ZM1759.19 348.50L1760.89 345.90L1765.49 345.90L1767.19 348.50L1765.49 351.10L1760.89 351.10ZM1769.49 348.50L1771.19 345.90L1775.79 345.90L1777.49 348.50L1775.79 351.10L1771.19 351.10ZM1779.78 348.50L1781.48 345.90L1786.08 345.90L1787.78 348.50L1786.08 351.10L1781.48 351.10ZM1790.08 348.50L1791.78 345.90L1796.38 345.90L1798.08 348.50L1796.38 351.10L1791.78 351.10ZM1800.37 348.50L1802.07 345.90L1806.67 345.90L1808.37 348.50L1806.67 351.10L1802.07 351.10ZM1810.66 348.50L1812.36 345.90L1816.96 345.90L1818.66 348.50L1816.96 351.10L1812.36 351.10ZM1820.96 348.50L1822.66 345.90L1827.26 345.90L1828.96 348.50L1827.26 351.10L1822.66 351.10ZM1831.25 348.50L1832.95 345.90L1837.55 345.90L1839.25 348.50L1837.55 351.10L1832.95 351.10ZM1841.55 348.50L1843.25 345.90L1847.85 345.90L1849.55 348.50L1847.85 351.10L1843.25 351.10ZM1851.84 348.50L1853.54 345.90L1858.14 345.90L1859.84 348.50L1858.14 351.10L1853.54 351.10ZM1862.14 348.50L1863.84 345.90L1868.44 345.90L1870.14 348.50L1868.44 351.10L1863.84 351.10ZM1872.43 348.50L1874.13 345.90L1878.73 345.90L1880.43 348.50L1878.73 351.10L1874.13 351.10ZM1882.72 348.50L1884.42 345.90L1889.02 345.90L1890.72 348.50L1889.02 351.10L1884.42 351.10ZM1893.02 348.50L1894.72 345.90L1899.32 345.90L1901.02 348.50L1899.32 351.10L1894.72 351.10ZM1903.31 348.50L1905.01 345.90L1909.61 345.90L1911.31 348.50L1909.61 351.10L1905.01 351.10ZM1913.61 348.50L1915.31 345.90L1919.91 345.90L1921.61 348.50L1919.91 351.10L1915.31 351.10ZM1923.90 348.50L1925.60 345.90L1930.20 345.90L1931.90 348.50L1930.20 351.10L1925.60 351.10ZM1934.20 348.50L1935.90 345.90L1940.50 345.90L1942.20 348.50L1940.50 351.10L1935.90 351.10ZM1944.49 348.50L1946.19 345.90L1950.79 345.90L1952.49 348.50L1950.79 351.10L1946.19 351.10ZM1954.78 348.50L1956.48 345.90L1961.08 345.90L1962.78 348.50L1961.08 351.10L1956.48 351.10ZM1965.08 348.50L1966.78 345.90L1971.38 345.90L1973.08 348.50L1971.38 351.10L1966.78 351.10ZM1975.37 348.50L1977.07 345.90L1981.67 345.90L1983.37 348.50L1981.67 351.10L1977.07 351.10ZM1985.67 348.50L1987.37 345.90L1991.97 345.90L1993.67 348.50L1991.97 351.10L1987.37 351.10ZM1995.96 348.50L1997.66 345.90L2002.26 345.90L2003.96 348.50L2002.26 351.10L1997.66 351.10ZM2006.26 348.50L2007.96 345.90L2012.56 345.90L2014.26 348.50L2012.56 351.10L2007.96 351.10ZM2016.55 348.50L2018.25 345.90L2022.85 345.90L2024.55 348.50L2022.85 351.10L2018.25 351.10ZM2026.85 348.50L2028.55 345.90L2033.14 345.90L2034.85 348.50L2033.14 351.10L2028.55 351.10ZM2037.14 348.50L2038.84 345.90L2043.44 345.90L2045.14 348.50L2043.44 351.10L2038.84 351.10ZM2047.43 348.50L2049.13 345.90L2053.73 345.90L2055.43 348.50L2053.73 351.10L2049.13 351.10ZM2057.73 348.50L2059.43 345.90L2064.03 345.90L2065.73 348.50L2064.03 351.10L2059.43 351.10Z"/>
<polygon points="433.40,348.50 479.20,332.90 479.20,364.10"/>
<polygon points="2101.20,348.50 2055.40,332.90 2055.40,364.10"/>
</g>
<text class="an" text-anchor="middle" x="337.4" y="254.9">Creep</text>
<text class="an" text-anchor="middle" x="337.3" y="308.8">zone</text>
<text class="an" text-anchor="middle" x="1400.0" y="312.6">Slip zone</text>
<g id="legend">
<g fill="#202020" shape-rendering="crispEdges">
<rect x="1756" y="96" width="309" height="140"/>
<rect x="1760" y="100" width="301" height="132" fill="#fff"/>
<rect x="1774" y="133" width="173" height="4" fill="#0073C4"/>
<rect x="1774" y="194" width="173" height="4" fill="#FA500A"/>
</g>
<text class="lg" x="1959.2" y="154.5">Dry</text>
<text class="lg" x="1960.2" y="214.4">Wet</text>
</g>
</svg></body></html>
